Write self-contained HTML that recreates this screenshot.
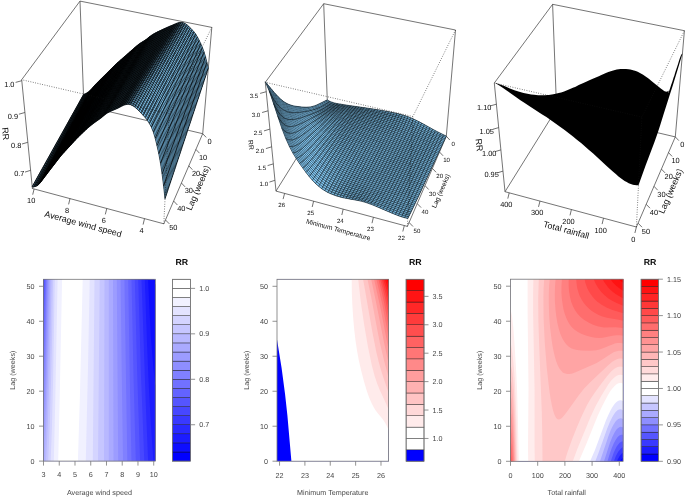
<!DOCTYPE html><html><head><meta charset="utf-8"><style>
html,body{margin:0;padding:0;background:#fff;}
svg{display:block;filter:blur(.3px);font-family:"Liberation Sans",sans-serif;text-rendering:geometricPrecision;}
.bx{stroke:#3a3a3a;stroke-width:.7;fill:none}
.dt{stroke:#111;stroke-width:.65;stroke-dasharray:.8 1.6;fill:none}
.tk{stroke:#333;stroke-width:.7}
.tl{font-size:7.4px;fill:#0a0a0a;text-anchor:middle;dominant-baseline:central}
.tt{font-size:8.8px;fill:#0a0a0a;text-anchor:middle;dominant-baseline:central}
.pb{fill:none;stroke:#777;stroke-width:.8}
.ak{stroke:#777;stroke-width:.8}
.al{font-size:7.2px;fill:#484848}
.lg{stroke:#111;stroke-width:.4}
.rr{font-size:8.8px;font-weight:bold;fill:#0a0a0a}
</style></head><body>
<svg width="685" height="497" viewBox="0 0 685 497">

<line x1="202.7" y1="133.7" x2="211.8" y2="27.4" class="bx"/>
<line x1="202.7" y1="133.7" x2="163.8" y2="223.8" class="bx"/>
<line x1="202.7" y1="133.7" x2="83.9" y2="105.7" class="bx"/>
<line x1="211.8" y1="27.4" x2="80.0" y2="1.1" class="bx"/>
<line x1="163.8" y1="223.8" x2="32.4" y2="188.5" class="bx"/>
<line x1="83.9" y1="105.7" x2="80.0" y2="1.1" class="bx"/>
<line x1="83.9" y1="105.7" x2="32.4" y2="188.5" class="bx"/>
<line x1="80.0" y1="1.1" x2="21.7" y2="79.7" class="bx"/>
<line x1="32.4" y1="188.5" x2="21.7" y2="79.7" class="bx"/>
<path fill="#0a0f12" d="M60.2 156.7L61.9 154.7L65.4 150.9L76.2 139.1L78.1 137.2L79.9 135.4L85.6 130.0L87.5 128.3L89.4 126.6L91.4 125.1L95.3 122.1L99.3 119.3L101.3 117.8L105.3 114.4L107.4 113.0L109.4 111.9L111.5 110.9L115.6 109.2L117.7 108.3L121.9 106.1L124.0 105.1L126.2 104.5L128.3 104.2L130.4 104.6L132.5 105.6L134.7 107.0L136.8 108.8L138.9 110.8L141.0 113.0L143.1 115.2L145.2 117.5L147.2 120.1L149.3 123.3L151.3 127.0L153.3 131.9L155.2 138.2L157.0 145.7L158.8 153.8L160.5 163.2L162.1 174.0L163.6 185.9L165.0 198.7L208.3 68.1L206.9 62.3L205.5 56.8L204.0 51.8L202.4 47.5L200.8 43.7L199.1 40.2L197.4 37.0L195.7 34.1L193.9 31.8L190.3 27.9L188.5 26.1L186.7 24.6L184.8 23.4L182.9 22.6L181.0 22.4L179.1 22.6L177.2 23.1L175.2 23.9L171.3 25.6L167.5 27.2L165.6 28.0L161.7 29.8L156.0 32.6L154.2 33.6L152.3 34.7L150.4 36.0L146.7 39.0L144.8 40.3L141.1 42.6L139.3 43.8L137.5 45.2L135.6 46.8L123.2 57.8L118.0 62.2L116.2 63.8L114.5 65.5L107.8 72.3L96.2 83.7L94.6 85.4L91.5 89.1L89.9 90.6L88.3 91.9L86.7 93.0L85.1 93.9L83.5 94.6L32.2 186.6L33.9 186.8L35.6 186.4L37.3 185.7L38.9 184.3L40.5 182.5L43.7 178.3L48.5 171.9L50.1 169.8L53.4 165.6Z"/>
<path fill="#141f26" stroke="#141f26" stroke-width=".35" d="M65.4 137.0L40.5 182.5L50.1 169.8L58.7 154.4L55.5 158.6L57.6 154.8L54.3 158.8L68.5 132.9ZM64.5 149.2L61.1 153.6L59.0 157.4L55.6 161.7L53.4 165.6L60.2 156.7Z"/>
<path fill="#152128" stroke="#152128" stroke-width=".35" d="M68.5 132.9L54.3 158.8L57.6 154.8L55.5 158.6L58.7 154.4L50.1 169.8L53.4 165.6L55.6 161.7L59.0 157.4L61.1 153.6L64.5 149.2L77.1 127.5L70.4 135.7L66.2 143.0L62.9 147.0L71.1 132.4L67.8 136.3L71.8 129.1ZM65.4 137.0L68.5 132.9L89.3 95.1L86.1 98.9Z"/>
<path fill="#16222a" stroke="#16222a" stroke-width=".35" d="M80.1 111.9L68.5 132.9L71.8 129.1L67.8 136.3L71.1 132.4L62.9 147.0L66.2 143.0L70.4 135.7L77.1 127.5L91.0 103.6L87.6 107.5L85.7 110.9L82.3 114.7L80.4 118.1L77.0 121.8L82.8 111.5L79.5 115.1L83.3 108.3ZM91.5 89.1L86.1 98.9L89.3 95.1L94.6 85.4Z"/>
<path fill="#18242c" stroke="#18242c" stroke-width=".35" d="M81.2 120.5L60.2 156.7L61.9 154.7L74.4 141.1L76.6 137.5L73.0 141.4L75.1 137.7L71.5 141.6L73.7 137.9L70.2 141.7L84.6 116.8ZM43.8 173.9L37.3 185.7L38.9 184.3L40.5 182.5L47.0 170.7L45.4 172.4ZM91.1 91.8L80.1 111.9L83.3 108.3L79.5 115.1L82.8 111.5L77.0 121.8L80.4 118.1L82.3 114.7L85.7 110.9L87.6 107.5L91.0 103.6L100.4 87.4L97.0 91.1L95.1 94.3L91.8 97.9L89.9 101.2L86.6 104.7L92.2 94.8L88.9 98.3L94.3 88.5Z"/>
<path fill="#19262e" stroke="#19262e" stroke-width=".35" d="M84.6 116.8L70.2 141.7L73.7 137.9L71.5 141.6L75.1 137.7L73.0 141.4L76.6 137.5L74.4 141.1L78.1 137.2L94.9 109.0L91.3 112.8L93.3 109.4L86.1 116.6L97.9 96.5L94.4 100.0L109.2 74.6L105.8 78.1L109.4 71.9L106.0 75.4L104.2 78.5L97.6 85.2L101.1 78.8L94.6 85.4L91.1 91.8L94.3 88.5L88.9 98.3L92.2 94.8L86.6 104.7L89.9 101.2L91.8 97.9L95.1 94.3L97.0 91.1L100.4 87.4L81.2 120.5ZM67.7 131.4L66.1 132.8L43.8 173.9L45.4 172.4L47.0 170.7L69.3 129.8Z"/>
<path fill="#1a2730" stroke="#1a2730" stroke-width=".35" d="M81.1 105.1L75.6 115.3L66.1 132.8L67.7 131.4L69.3 129.8L84.3 102.2L82.7 103.8ZM97.9 96.5L86.1 116.6L93.3 109.4L91.3 112.8L94.9 109.0L106.7 89.3L103.1 92.9L106.9 86.5L103.4 89.9L101.5 93.1ZM78.1 137.2L85.6 130.0L87.8 126.4L84.0 130.0L86.1 126.4L82.4 129.9ZM107.8 72.3L101.1 78.8L97.6 85.2L104.2 78.5L106.0 75.4L109.4 71.9L105.8 78.1L109.2 74.6L114.5 65.5ZM97.9 96.5L109.1 77.4L112.7 71.2L109.2 74.6L94.4 100.0Z"/>
<path fill="#1b2932" stroke="#1b2932" stroke-width=".35" d="M88.3 91.9L81.1 105.1L82.7 103.8L84.3 102.2L91.5 89.1L89.9 90.6ZM106.7 89.3L82.4 129.9L86.1 126.4L84.0 130.0L87.8 126.4L114.1 82.6L110.4 86.0L112.3 82.8L108.6 86.2L119.7 67.7L112.6 74.3L110.8 77.3L107.3 80.5L97.9 96.5L101.5 93.1L103.4 89.9L106.9 86.5L103.1 92.9ZM114.5 65.5L109.2 74.6L112.7 71.2L118.0 62.2Z"/>
<path fill="#1c2b34" stroke="#1c2b34" stroke-width=".35" d="M116.2 65.2L107.3 80.5L110.8 77.3L112.6 74.3L119.7 67.7L108.6 86.2L112.3 82.8L110.4 86.0L114.1 82.6L133.9 49.6L130.3 52.8L132.0 50.0L121.4 59.3L119.7 62.2ZM102.4 102.1L96.2 112.3L85.6 130.0L89.4 126.6L106.2 98.9L104.3 100.4Z"/>
<path fill="#1d2d36" stroke="#1d2d36" stroke-width=".35" d="M123.4 67.2L102.4 102.1L104.3 100.4L106.2 98.9L127.1 64.1L125.2 65.6ZM111.8 100.3L103.4 114.2L101.3 117.8L105.3 114.4L115.7 97.1ZM130.3 52.8L133.9 49.6L135.6 46.8L132.0 50.0ZM116.2 65.2L119.7 62.2L121.4 59.3L118.0 62.2Z"/>
<path fill="#1e2e38" stroke="#1e2e38" stroke-width=".35" d="M135.6 46.8L123.4 67.2L125.2 65.6L127.1 64.1L139.3 43.8L137.5 45.2ZM119.8 87.0L111.8 100.3L115.7 97.1L123.7 84.0ZM102.1 105.6L90.5 124.8L89.4 126.6L93.3 123.5L106.0 102.7ZM146.7 39.0L139.0 51.7L131.0 64.9L134.8 61.9L150.4 36.0Z"/>
<path fill="#20303a" stroke="#20303a" stroke-width=".35" d="M112.1 89.0L102.1 105.6L106.0 102.7L115.9 86.2ZM109.9 99.9L106.0 102.7L93.3 123.5L101.3 117.8L119.8 87.0L123.7 84.0L131.3 71.3L127.4 74.2L134.8 61.9L131.0 64.9Z"/>
<path fill="#21323c" stroke="#21323c" stroke-width=".35" d="M121.6 73.2L112.1 89.0L115.9 86.2L106.0 102.7L109.9 99.9L129.2 68.0ZM134.8 61.9L127.4 74.2L131.3 71.3L138.7 59.2L136.7 60.5Z"/>
<path fill="#22343e" stroke="#22343e" stroke-width=".35" d="M130.6 58.2L121.6 73.2L129.2 68.0L146.7 39.0L144.8 40.3L143.0 41.5L134.4 55.7ZM85.1 93.9L78.8 105.3L77.9 107.0L79.5 106.1L81.1 105.1L88.3 91.9L86.7 93.0ZM145.7 47.5L143.8 48.7L141.9 50.1L134.8 61.9L136.7 60.5L138.7 59.2Z"/>
<path fill="#233541" stroke="#233541" stroke-width=".35" d="M137.6 46.6L130.6 58.2L134.4 55.7L141.3 44.3ZM77.9 107.0L75.2 112.0L72.4 117.0L74.0 116.3L75.6 115.3L81.1 105.1L79.5 106.1ZM107.4 113.0L109.4 111.9L111.5 108.4L109.5 109.5L107.4 110.9L105.3 114.4ZM147.0 41.5L141.9 50.1L143.8 48.7L145.7 47.5L150.8 39.1L148.9 40.2Z"/>
<path fill="#243743" stroke="#243743" stroke-width=".35" d="M119.8 90.5L107.4 110.9L109.5 109.5L111.5 108.4L123.8 88.2L121.8 89.2ZM72.4 117.0L67.6 125.6L66.7 127.3L68.3 126.7L69.9 125.7L75.6 115.3L74.0 116.3ZM150.4 36.0L147.0 41.5L148.9 40.2L150.8 39.1L154.2 33.6L152.3 34.7ZM137.6 46.6L141.3 44.3L143.0 41.5L139.3 43.8Z"/>
<path fill="#253945" stroke="#253945" stroke-width=".35" d="M131.3 71.3L127.6 77.6L119.8 90.5L121.8 89.2L123.8 88.2L135.3 69.1L133.3 70.2ZM66.7 127.3L61.8 136.1L58.9 141.5L60.5 140.9L62.2 140.0L69.9 125.7L68.3 126.7Z"/>
<path fill="#263a47" stroke="#263a47" stroke-width=".35" d="M125.9 94.5L120.8 103.0L117.7 108.3L121.9 106.1L130.1 92.4ZM58.9 141.5L52.9 152.4L54.5 151.9L56.2 151.0L62.2 140.0L60.5 140.9ZM142.2 53.3L137.8 60.7L131.3 71.3L133.3 70.2L135.3 69.1L146.1 51.2Z"/>
<path fill="#273c49" stroke="#273c49" stroke-width=".35" d="M135.7 78.0L125.9 94.5L130.1 92.4L139.8 76.0ZM79.9 101.0L81.5 100.4L85.1 93.9L83.5 94.6ZM52.9 152.4L46.7 163.6L48.4 163.1L50.0 162.3L56.2 151.0L54.5 151.9ZM150.8 39.1L146.6 46.1L142.2 53.3L146.1 51.2L154.6 37.1Z"/>
<path fill="#283e4b" stroke="#283e4b" stroke-width=".35" d="M140.8 60.0L123.8 88.2L109.4 111.9L113.5 110.1L144.7 58.2ZM81.5 100.4L79.9 101.0L78.1 104.3L79.7 103.6ZM42.5 171.2L44.2 170.7L45.9 170.0L50.0 162.3L48.4 163.1L46.7 163.6ZM154.2 33.6L150.8 39.1L154.6 37.1L157.9 31.6ZM145.0 62.4L141.4 68.5L135.7 78.0L139.8 76.0L149.1 60.5Z"/>
<path fill="#2a404d" stroke="#2a404d" stroke-width=".35" d="M144.7 58.2L113.5 110.1L117.7 108.3L145.0 62.4L149.1 60.5L156.1 48.7L152.2 50.5L165.6 28.0L157.9 31.6L140.8 60.0ZM78.1 104.3L75.4 109.2L74.5 110.9L76.1 110.3L79.7 103.6ZM42.5 171.2L36.1 182.8L37.8 182.5L39.5 181.8L45.9 170.0L44.2 170.7Z"/>
<path fill="#2b414f" stroke="#2b414f" stroke-width=".35" d="M159.0 39.0L153.9 47.6L152.2 50.5L156.1 48.7L162.9 37.3ZM74.2 113.6L75.2 112.0L76.1 110.3L74.5 110.9L72.6 114.2ZM33.9 186.8L35.6 186.4L37.3 185.7L39.5 181.8L37.8 182.5L36.1 182.8Z"/>
<path fill="#2c4351" stroke="#2c4351" stroke-width=".35" d="M162.9 37.3L139.8 76.0L121.9 106.1L124.0 105.1L126.2 104.5L173.3 24.8L171.3 25.6L165.6 28.0L159.0 39.0ZM74.2 113.6L72.6 114.2L70.7 117.5L72.4 117.0Z"/>
<path fill="#2d4553" stroke="#2d4553" stroke-width=".35" d="M173.3 24.8L170.1 30.2L172.0 29.3L174.0 28.7L177.2 23.1L175.2 23.9ZM70.7 117.5L67.0 124.3L68.6 123.9L72.4 117.0Z"/>
<path fill="#2e4655" stroke="#2e4655" stroke-width=".35" d="M170.1 30.2L168.4 32.9L170.4 32.1L172.4 31.5L174.0 28.7L172.0 29.3ZM67.0 124.3L65.0 127.8L66.7 127.3L68.6 123.9Z"/>
<path fill="#2f4858" stroke="#2f4858" stroke-width=".35" d="M168.4 32.9L167.6 34.3L165.2 38.5L167.1 37.7L169.1 37.2L172.4 31.5L170.4 32.1ZM63.1 131.2L64.8 130.8L66.7 127.3L65.0 127.8Z"/>
<path fill="#304a5a" stroke="#304a5a" stroke-width=".35" d="M165.2 38.5L163.5 41.3L165.5 40.6L167.4 40.1L169.1 37.2L167.1 37.7ZM63.1 131.2L59.2 138.2L60.9 137.9L64.8 130.8Z"/>
<path fill="#324c5c" stroke="#324c5c" stroke-width=".35" d="M163.5 41.3L161.8 44.2L163.8 43.5L165.8 43.0L167.4 40.1L165.5 40.6ZM59.2 138.2L57.2 141.8L58.9 141.5L60.9 137.9Z"/>
<path fill="#334d5e" stroke="#334d5e" stroke-width=".35" d="M161.8 44.2L160.1 47.1L158.4 50.0L160.4 49.3L162.4 48.9L165.8 43.0L163.8 43.5ZM55.2 145.3L56.9 145.1L58.9 141.5L57.2 141.8Z"/>
<path fill="#344f60" stroke="#344f60" stroke-width=".35" d="M158.4 50.0L156.6 52.9L158.6 52.3L160.6 51.9L162.4 48.9L160.4 49.3ZM55.2 145.3L53.2 148.9L54.9 148.7L56.9 145.1Z"/>
<path fill="#355162" stroke="#355162" stroke-width=".35" d="M156.6 52.9L154.9 55.9L156.9 55.3L158.9 55.0L160.6 51.9L158.6 52.3ZM53.2 148.9L51.2 152.6L52.9 152.4L54.9 148.7Z"/>
<path fill="#365264" stroke="#365264" stroke-width=".35" d="M154.9 55.9L153.1 58.9L155.1 58.3L157.1 58.0L158.9 55.0L156.9 55.3ZM51.2 152.6L49.2 156.2L50.8 156.1L52.9 152.4Z"/>
<path fill="#375466" stroke="#375466" stroke-width=".35" d="M153.1 58.9L152.2 60.4L149.5 65.0L151.5 64.5L153.6 64.3L157.1 58.0L155.1 58.3ZM47.1 159.9L48.8 159.8L50.8 156.1L49.2 156.2Z"/>
<path fill="#385668" stroke="#385668" stroke-width=".35" d="M177.2 23.1L175.6 25.9L177.5 25.4L179.5 25.3L181.0 22.4L179.1 22.6ZM149.5 65.0L147.7 68.1L149.7 67.6L151.7 67.5L153.6 64.3L151.5 64.5ZM45.0 163.6L46.7 163.6L48.8 159.8L47.1 159.9Z"/>
<path fill="#39586a" stroke="#39586a" stroke-width=".35" d="M147.7 68.1L145.8 71.2L147.9 70.7L149.9 70.7L151.7 67.5L149.7 67.6ZM45.0 163.6L42.9 167.4L44.6 167.4L46.7 163.6Z"/>
<path fill="#3a596c" stroke="#3a596c" stroke-width=".35" d="M175.6 25.9L174.0 28.7L175.9 28.2L177.9 28.1L179.5 25.3L177.5 25.4ZM145.8 71.2L143.9 74.4L146.0 73.9L148.0 73.9L149.9 70.7L147.9 70.7ZM40.8 171.2L42.5 171.2L44.6 167.4L42.9 167.4Z"/>
<path fill="#3c5b6e" stroke="#3c5b6e" stroke-width=".35" d="M174.0 28.7L172.4 31.5L174.3 31.1L176.3 31.1L177.9 28.1L175.9 28.2ZM143.9 74.4L142.0 77.6L144.1 77.1L146.2 77.2L148.0 73.9L146.0 73.9ZM38.7 175.0L40.4 175.0L42.5 171.2L40.8 171.2Z"/>
<path fill="#3d5d70" stroke="#3d5d70" stroke-width=".35" d="M142.0 77.6L140.1 80.8L142.2 80.4L144.3 80.5L146.2 77.2L144.1 77.1ZM38.7 175.0L36.5 178.9L38.3 178.9L40.4 175.0Z"/>
<path fill="#3e5e73" stroke="#3e5e73" stroke-width=".35" d="M172.4 31.5L170.7 34.3L172.7 34.0L174.7 34.0L176.3 31.1L174.3 31.1ZM140.1 80.8L138.2 84.1L140.3 83.7L142.4 83.8L144.3 80.5L142.2 80.4ZM34.4 182.7L36.1 182.8L38.3 178.9L36.5 178.9Z"/>
<path fill="#3f6075" stroke="#3f6075" stroke-width=".35" d="M170.7 34.3L169.1 37.2L171.1 36.9L173.0 37.0L174.7 34.0L172.7 34.0ZM138.2 84.1L136.2 87.4L138.3 87.0L140.4 87.2L142.4 83.8L140.3 83.7ZM32.2 186.6L33.9 186.8L36.1 182.8L34.4 182.7Z"/>
<path fill="#406277" stroke="#406277" stroke-width=".35" d="M138.3 87.0L136.2 87.4L134.3 90.7L136.4 90.4L138.5 90.6L140.4 87.2Z"/>
<path fill="#416479" stroke="#416479" stroke-width=".35" d="M169.1 37.2L167.4 40.1L169.4 39.9L171.4 40.0L173.0 37.0L171.1 36.9ZM134.3 90.7L132.3 94.1L134.4 93.8L136.5 94.0L138.5 90.6L136.4 90.4Z"/>
<path fill="#42657b" stroke="#42657b" stroke-width=".35" d="M132.3 94.1L130.3 97.5L128.2 101.0L130.3 100.7L132.5 101.1L136.5 94.0L134.4 93.8Z"/>
<path fill="#44677d" stroke="#44677d" stroke-width=".35" d="M167.4 40.1L165.8 43.0L167.7 42.8L169.7 43.0L171.4 40.0L169.4 39.9ZM128.2 101.0L126.2 104.5L128.3 104.2L130.4 104.6L132.5 101.1L130.3 100.7Z"/>
<path fill="#45697f" stroke="#45697f" stroke-width=".35" d="M167.7 42.8L165.8 43.0L164.1 45.9L166.1 45.8L168.0 46.1L169.7 43.0Z"/>
<path fill="#476c83" stroke="#476c83" stroke-width=".35" d="M166.1 45.8L164.1 45.9L162.4 48.9L164.4 48.9L166.3 49.2L168.0 46.1Z"/>
<path fill="#486e85" stroke="#486e85" stroke-width=".35" d="M164.4 48.9L162.4 48.9L160.6 51.9L162.6 51.9L164.6 52.3L166.3 49.2Z"/>
<path fill="#4a718a" stroke="#4a718a" stroke-width=".35" d="M162.6 51.9L160.6 51.9L158.9 55.0L160.9 55.0L162.9 55.5L164.6 52.3Z"/>
<path fill="#4c758e" stroke="#4c758e" stroke-width=".35" d="M160.9 55.0L158.9 55.0L157.1 58.0L159.1 58.2L161.1 58.7L162.9 55.5Z"/>
<path fill="#4e7690" stroke="#4e7690" stroke-width=".35" d="M159.1 58.2L157.1 58.0L155.4 61.1L157.4 61.3L159.4 61.9L161.1 58.7Z"/>
<path fill="#507a94" stroke="#507a94" stroke-width=".35" d="M157.4 61.3L155.4 61.1L153.6 64.3L155.6 64.5L157.6 65.2L159.4 61.9Z"/>
<path fill="#527d98" stroke="#527d98" stroke-width=".35" d="M155.6 64.5L153.6 64.3L151.7 67.5L153.8 67.8L155.8 68.5L157.6 65.2Z"/>
<path fill="#537f9a" stroke="#537f9a" stroke-width=".35" d="M153.8 67.8L151.7 67.5L149.9 70.7L151.9 71.0L154.0 71.8L155.8 68.5Z"/>
<path fill="#56829e" stroke="#56829e" stroke-width=".35" d="M181.0 22.4L179.5 25.3L181.4 25.6L183.3 26.4L184.8 23.4L182.9 22.6ZM149.9 70.7L148.0 73.9L150.1 74.3L152.1 75.1L154.0 71.8L151.9 71.0Z"/>
<path fill="#5784a0" stroke="#5784a0" stroke-width=".35" d="M179.5 25.3L177.9 28.1L179.8 28.5L181.7 29.4L183.3 26.4L181.4 25.6ZM148.0 73.9L146.2 77.2L148.2 77.6L150.3 78.5L152.1 75.1L150.1 74.3Z"/>
<path fill="#5886a2" stroke="#5886a2" stroke-width=".35" d="M179.8 28.5L177.9 28.1L176.3 31.1L178.2 31.5L180.1 32.4L181.7 29.4Z"/>
<path fill="#5988a5" stroke="#5988a5" stroke-width=".35" d="M176.3 31.1L174.7 34.0L176.6 34.5L178.5 35.4L180.1 32.4L178.2 31.5ZM146.2 77.2L144.3 80.5L146.3 81.0L148.4 82.0L150.3 78.5L148.2 77.6Z"/>
<path fill="#5a89a7" stroke="#5a89a7" stroke-width=".35" d="M146.3 81.0L144.3 80.5L142.4 83.8L144.4 84.4L146.5 85.4L148.4 82.0Z"/>
<path fill="#5b8ba9" stroke="#5b8ba9" stroke-width=".35" d="M176.6 34.5L174.7 34.0L173.0 37.0L175.0 37.5L176.9 38.5L178.5 35.4Z"/>
<path fill="#5c8dab" stroke="#5c8dab" stroke-width=".35" d="M173.0 37.0L171.4 40.0L173.3 40.6L175.2 41.6L176.9 38.5L175.0 37.5ZM142.4 83.8L140.4 87.2L142.5 87.8L144.6 88.9L146.5 85.4L144.4 84.4Z"/>
<path fill="#5d8ead" stroke="#5d8ead" stroke-width=".35" d="M171.4 40.0L169.7 43.0L171.7 43.7L173.6 44.8L175.2 41.6L173.3 40.6ZM140.4 87.2L138.5 90.6L140.5 91.3L142.6 92.5L144.6 88.9L142.5 87.8Z"/>
<path fill="#5e90af" stroke="#5e90af" stroke-width=".35" d="M171.7 43.7L169.7 43.0L168.0 46.1L170.0 46.8L171.9 47.9L173.6 44.8Z"/>
<path fill="#6092b1" stroke="#6092b1" stroke-width=".35" d="M140.5 91.3L138.5 90.6L136.5 94.0L138.6 94.8L140.7 96.0L142.6 92.5Z"/>
<path fill="#6194b3" stroke="#6194b3" stroke-width=".35" d="M168.0 46.1L166.3 49.2L168.3 50.0L170.2 51.1L171.9 47.9L170.0 46.8ZM136.5 94.0L134.5 97.5L136.6 98.4L138.7 99.7L140.7 96.0L138.6 94.8Z"/>
<path fill="#6295b5" stroke="#6295b5" stroke-width=".35" d="M166.3 49.2L164.6 52.3L166.6 53.2L168.5 54.4L170.2 51.1L168.3 50.0ZM134.5 97.5L132.5 101.1L134.6 102.0L136.7 103.3L138.7 99.7L136.6 98.4Z"/>
<path fill="#6397b7" stroke="#6397b7" stroke-width=".35" d="M164.6 52.3L162.9 55.5L164.9 56.4L166.8 57.6L168.5 54.4L166.6 53.2ZM132.5 101.1L130.4 104.6L132.5 105.6L134.7 107.0L136.7 103.3L134.6 102.0Z"/>
<path fill="#6499b9" stroke="#6499b9" stroke-width=".35" d="M164.9 56.4L162.9 55.5L161.1 58.7L163.1 59.6L165.1 60.9L166.8 57.6Z"/>
<path fill="#659abc" stroke="#659abc" stroke-width=".35" d="M163.1 59.6L161.1 58.7L159.4 61.9L161.4 62.9L163.3 64.3L165.1 60.9Z"/>
<path fill="#669cbe" stroke="#669cbe" stroke-width=".35" d="M161.4 62.9L159.4 61.9L157.6 65.2L159.6 66.2L161.6 67.6L163.3 64.3Z"/>
<path fill="#689ec0" stroke="#689ec0" stroke-width=".35" d="M159.6 66.2L157.6 65.2L155.8 68.5L157.8 69.6L159.8 71.0L161.6 67.6Z"/>
<path fill="#69a0c2" stroke="#69a0c2" stroke-width=".35" d="M157.8 69.6L155.8 68.5L154.0 71.8L156.0 73.0L158.0 74.5L159.8 71.0Z"/>
<path fill="#6aa1c4" stroke="#6aa1c4" stroke-width=".35" d="M154.0 71.8L150.3 78.5L152.3 79.8L154.3 81.4L158.0 74.5L156.0 73.0Z"/>
<path fill="#6ba3c6" stroke="#6ba3c6" stroke-width=".35" d="M184.8 23.4L183.3 26.4L185.1 27.6L187.0 29.2L188.5 26.1L186.7 24.6ZM150.3 78.5L148.4 82.0L150.4 83.3L152.5 85.0L154.3 81.4L152.3 79.8Z"/>
<path fill="#6ca5c8" stroke="#6ca5c8" stroke-width=".35" d="M183.3 26.4L180.1 32.4L182.0 33.7L183.8 35.3L187.0 29.2L185.1 27.6ZM148.4 82.0L146.5 85.4L148.5 86.8L150.6 88.6L152.5 85.0L150.4 83.3Z"/>
<path fill="#6da7ca" stroke="#6da7ca" stroke-width=".35" d="M180.1 32.4L175.2 41.6L177.1 43.0L179.0 44.7L183.8 35.3L182.0 33.7ZM146.5 85.4L144.6 88.9L146.6 90.4L148.7 92.2L150.6 88.6L148.5 86.8Z"/>
<path fill="#6ea8cc" stroke="#6ea8cc" stroke-width=".35" d="M175.2 41.6L170.2 51.1L172.2 52.7L174.1 54.4L179.0 44.7L177.1 43.0ZM144.6 88.9L140.7 96.0L142.7 97.6L144.8 99.5L148.7 92.2L146.6 90.4Z"/>
<path fill="#6faace" stroke="#6faace" stroke-width=".35" d="M170.2 51.1L165.1 60.9L167.0 62.6L169.0 64.4L174.1 54.4L172.2 52.7ZM140.7 96.0L138.7 99.7L140.8 101.3L142.9 103.2L144.8 99.5L142.7 97.6Z"/>
<path fill="#70acd0" stroke="#70acd0" stroke-width=".35" d="M165.1 60.9L159.8 71.0L161.8 72.8L163.7 74.7L169.0 64.4L167.0 62.6ZM138.7 99.7L134.7 107.0L136.8 108.8L138.9 110.8L142.9 103.2L140.8 101.3Z"/>
<path fill="#72add2" stroke="#72add2" stroke-width=".35" d="M159.8 71.0L154.3 81.4L156.3 83.3L158.3 85.3L163.7 74.7L161.8 72.8Z"/>
<path fill="#73afd4" stroke="#73afd4" stroke-width=".35" d="M188.5 26.1L182.2 38.4L184.1 40.3L185.9 42.3L192.1 29.8ZM154.3 81.4L148.7 92.2L152.7 96.2L158.3 85.3L156.3 83.3Z"/>
<path fill="#74b1d7" stroke="#74b1d7" stroke-width=".35" d="M182.2 38.4L174.1 54.4L176.0 56.4L177.9 58.5L185.9 42.3L184.1 40.3ZM148.7 92.2L140.9 107.0L145.0 111.3L152.7 96.2Z"/>
<path fill="#75b3d9" stroke="#75b3d9" stroke-width=".35" d="M174.1 54.4L161.9 78.2L163.9 80.3L165.9 82.7L177.9 58.5L176.0 56.4ZM138.9 110.8L143.1 115.2L145.0 111.3L140.9 107.0Z"/>
<path fill="#76b4db" stroke="#76b4db" stroke-width=".35" d="M192.1 29.8L189.1 36.0L190.9 38.0L192.6 40.5L195.7 34.1L193.9 31.8ZM161.9 78.2L150.9 99.9L152.9 102.1L154.9 104.7L165.9 82.7L163.9 80.3Z"/>
<path fill="#77b6dd" stroke="#77b6dd" stroke-width=".35" d="M189.1 36.0L184.3 45.5L186.2 47.6L188.0 50.3L192.6 40.5L190.9 38.0ZM150.9 99.9L143.1 115.2L145.2 117.5L147.2 120.1L154.9 104.7L152.9 102.1Z"/>
<path fill="#78b8df" stroke="#78b8df" stroke-width=".35" d="M184.3 45.5L177.9 58.5L179.7 60.9L181.6 63.7L188.0 50.3L186.2 47.6Z"/>
<path fill="#7ab9e1" stroke="#7ab9e1" stroke-width=".35" d="M177.9 58.5L171.1 72.1L173.0 74.7L174.9 77.7L181.6 63.7L179.7 60.9Z"/>
<path fill="#7bbbe3" stroke="#7bbbe3" stroke-width=".35" d="M171.1 72.1L162.3 89.9L164.2 92.6L166.2 95.9L174.9 77.7L173.0 74.7Z"/>
<path fill="#7cbde5" stroke="#7cbde5" stroke-width=".35" d="M195.7 34.1L192.6 40.5L194.4 43.5L196.1 47.0L199.1 40.2L197.4 37.0ZM162.3 89.9L149.2 116.2L151.2 119.3L153.2 123.0L166.2 95.9L164.2 92.6Z"/>
<path fill="#7dbfe7" stroke="#7dbfe7" stroke-width=".35" d="M192.6 40.5L188.0 50.3L189.7 53.5L191.4 57.3L196.1 47.0L194.4 43.5ZM149.2 116.2L147.2 120.1L149.3 123.3L151.3 127.0L153.2 123.0L151.2 119.3Z"/>
<path fill="#7ec0e9" stroke="#7ec0e9" stroke-width=".35" d="M199.1 40.2L194.5 50.4L196.2 54.4L197.8 58.6L202.4 47.5L200.8 43.7ZM188.0 50.3L179.9 67.2L181.7 70.8L183.4 75.2L191.4 57.3L189.7 53.5Z"/>
<path fill="#7fc2eb" stroke="#7fc2eb" stroke-width=".35" d="M179.9 67.2L169.7 88.5L171.6 92.6L173.3 97.7L183.4 75.2L181.7 70.8ZM202.4 47.5L199.4 54.9L200.9 59.6L202.4 65.1L205.5 56.8L204.0 51.8ZM194.5 50.4L188.3 64.4L189.9 69.0L191.6 73.9L197.8 58.6L196.2 54.4Z"/>
<path fill="#80c4ee" stroke="#80c4ee" stroke-width=".35" d="M188.3 64.4L178.4 86.3L180.1 91.8L181.8 97.8L190.0 77.8L191.5 83.7L193.0 90.5L199.3 73.4L200.8 79.9L202.1 86.9L208.3 68.1L206.9 62.3L205.5 56.8L202.4 65.1L200.9 59.6L199.4 54.9L191.6 73.9L189.9 69.0ZM169.7 88.5L151.3 127.0L153.3 131.9L155.2 138.2L173.3 97.7L171.6 92.6Z"/>
<path fill="#81c5f0" stroke="#81c5f0" stroke-width=".35" d="M178.4 86.3L155.2 138.2L157.0 145.7L158.8 153.8L173.3 118.6L174.9 126.4L176.4 135.5L184.8 112.6L186.2 121.3L187.6 130.7L202.1 86.9L200.8 79.9L199.3 73.4L193.0 90.5L191.5 83.7L190.0 77.8L181.8 97.8L180.1 91.8Z"/>
<path fill="#82c7f2" stroke="#82c7f2" stroke-width=".35" d="M173.3 118.6L158.8 153.8L160.5 163.2L162.1 174.0L163.6 185.9L165.0 198.7L187.6 130.7L186.2 121.3L184.8 112.6L176.4 135.5L174.9 126.4Z"/>
<path fill="none" stroke="#000" stroke-width="0.75" d="M208.3 68.1L165.0 198.7M206.9 62.3L163.6 185.9M205.5 56.8L162.1 174.0M204.0 51.8L160.5 163.2M202.4 47.5L158.8 153.8M200.8 43.7L157.0 145.7M199.1 40.2L155.2 138.2M197.4 37.0L153.3 131.9M195.7 34.1L151.3 127.0M193.9 31.8L149.3 123.3M192.1 29.8L147.2 120.1M190.3 27.9L145.2 117.5M188.5 26.1L143.1 115.2M186.7 24.6L141.0 113.0M184.8 23.4L138.9 110.8M182.9 22.6L136.8 108.8M181.0 22.4L134.7 107.0M179.1 22.6L132.5 105.6M177.2 23.1L130.4 104.6M175.2 23.9L128.3 104.2M173.3 24.8L126.2 104.5M171.3 25.6L124.0 105.1M169.4 26.4L121.9 106.1M167.5 27.2L119.8 107.2M165.6 28.0L117.7 108.3M163.6 28.9L115.6 109.2M161.7 29.8L113.5 110.1M159.8 30.7L111.5 110.9M157.9 31.6L109.4 111.9M156.0 32.6L107.4 113.0M154.2 33.6L105.3 114.4M152.3 34.7L103.3 116.0M150.4 36.0L101.3 117.8M148.5 37.5L99.3 119.3M146.7 39.0L97.3 120.7M144.8 40.3L95.3 122.1M143.0 41.5L93.3 123.5M141.1 42.6L91.4 125.1M139.3 43.8L89.4 126.6M137.5 45.2L87.5 128.3M135.6 46.8L85.6 130.0M133.8 48.4L83.7 131.8M132.0 50.0L81.8 133.6M130.2 51.5L79.9 135.4M128.5 53.1L78.1 137.2M126.7 54.7L76.2 139.1M124.9 56.2L74.4 141.1M123.2 57.8L72.6 143.1M121.4 59.3L70.8 145.1M119.7 60.8L69.0 147.1M118.0 62.2L67.2 149.0M116.2 63.8L65.4 150.9M114.5 65.5L63.7 152.8M112.8 67.2L61.9 154.7M111.1 68.9L60.2 156.7M109.4 70.6L58.5 158.9M107.8 72.3L56.8 161.2M106.1 74.0L55.1 163.4M104.4 75.6L53.4 165.6M102.8 77.2L51.8 167.7M101.1 78.8L50.1 169.8M99.5 80.5L48.5 171.9M97.9 82.1L46.9 174.1M96.2 83.7L45.3 176.2M94.6 85.4L43.7 178.3M93.0 87.2L42.1 180.4M91.5 89.1L40.5 182.5M89.9 90.6L38.9 184.3M88.3 91.9L37.3 185.7M86.7 93.0L35.6 186.4M85.1 93.9L33.9 186.8M83.5 94.6L32.2 186.6"/>
<path fill="none" stroke="#000" stroke-width="0.6" d="M208.3 68.1L205.5 56.8L204.0 51.8L202.4 47.5L199.1 40.2L197.4 37.0L195.7 34.1L193.9 31.8L192.1 29.8L188.5 26.1L186.7 24.6L184.8 23.4L182.9 22.6L181.0 22.4L179.1 22.6L177.2 23.1L175.2 23.9L171.3 25.6L165.6 28.0L154.2 33.6L150.4 36.0L146.7 39.0L144.8 40.3L139.3 43.8L135.6 46.8L116.2 63.8L96.2 83.7L94.6 85.4L91.5 89.1L89.9 90.6L88.3 91.9L86.7 93.0L83.5 94.6M207.6 70.4L204.7 58.9L203.2 53.8L201.6 49.3L198.4 41.9L196.7 38.6L194.9 35.7L193.2 33.3L191.4 31.3L187.7 27.6L185.9 26.1L184.0 24.9L182.2 24.1L180.3 23.8L178.3 24.0L176.4 24.5L174.4 25.2L164.7 29.4L157.1 33.0L153.3 34.9L149.6 37.3L145.8 40.4L144.0 41.7L138.4 45.2L134.8 48.2L115.4 65.3L95.4 85.3L93.8 87.0L90.6 90.7L89.0 92.2L87.4 93.5L85.8 94.6L84.2 95.5L82.6 96.2M206.8 72.8L204.0 60.9L202.5 55.7L200.9 51.2L197.6 43.6L195.9 40.2L194.2 37.3L192.4 34.9L190.6 32.9L187.0 29.2L185.1 27.6L183.3 26.4L181.4 25.6L179.5 25.3L177.5 25.4L175.6 25.9L173.6 26.6L165.9 29.9L162.0 31.6L154.4 35.3L150.6 37.4L148.7 38.7L143.1 43.1L137.6 46.6L133.9 49.6L114.5 66.8L94.5 86.9L92.9 88.6L89.7 92.3L88.1 93.9L86.5 95.2L84.9 96.2L83.3 97.1L81.7 97.8M206.0 75.1L203.2 63.0L201.7 57.7L200.1 53.0L196.8 45.3L195.1 41.8L193.4 38.9L191.6 36.4L189.8 34.4L186.2 30.7L184.3 29.1L182.5 27.9L180.6 27.0L178.7 26.7L176.7 26.8L174.8 27.3L172.8 28.0L165.0 31.2L161.2 33.0L153.6 36.7L149.8 38.8L147.9 40.1L142.3 44.5L136.7 48.1L133.1 51.0L113.6 68.3L93.6 88.5L92.0 90.2L88.8 94.0L87.2 95.5L85.6 96.8L84.0 97.9L82.4 98.7L80.8 99.4M205.2 77.4L202.4 65.1L200.9 59.6L199.4 54.9L196.1 47.0L194.4 43.5L192.6 40.5L190.9 38.0L189.1 36.0L185.4 32.2L183.6 30.6L181.7 29.4L179.8 28.5L177.9 28.1L175.9 28.2L174.0 28.7L172.0 29.3L164.2 32.6L152.7 38.1L148.9 40.2L147.0 41.5L141.4 45.9L135.9 49.5L132.2 52.5L112.7 69.8L92.7 90.1L91.1 91.8L87.9 95.6L86.3 97.2L84.7 98.5L83.1 99.5L81.5 100.4L79.9 101.0M204.5 79.8L201.7 67.1L200.2 61.6L198.6 56.8L195.3 48.7L193.6 45.1L191.9 42.1L190.1 39.6L188.3 37.5L184.6 33.8L182.8 32.2L180.9 30.9L179.0 30.0L177.1 29.6L175.1 29.7L173.2 30.1L171.2 30.7L163.4 34.0L151.9 39.4L148.1 41.6L146.2 42.9L140.6 47.3L135.0 50.9L131.4 53.9L111.8 71.4L91.8 91.8L90.2 93.5L87.0 97.3L85.4 98.8L83.8 100.1L82.2 101.2L80.6 102.0L79.0 102.7M203.7 82.1L200.9 69.2L199.4 63.5L197.8 58.6L194.5 50.4L192.8 46.8L191.1 43.7L189.3 41.2L187.5 39.1L183.8 35.3L182.0 33.7L180.1 32.4L178.2 31.5L176.3 31.1L174.3 31.1L172.4 31.5L170.4 32.1L162.6 35.4L151.0 40.8L147.2 43.0L145.3 44.4L139.7 48.7L134.2 52.4L130.5 55.3L110.9 72.9L90.9 93.4L89.3 95.1L86.1 98.9L84.5 100.5L82.9 101.8L81.3 102.8L79.7 103.6L78.1 104.3M202.9 84.5L200.1 71.3L198.6 65.5L197.1 60.5L193.8 52.1L192.1 48.5L190.3 45.4L188.5 42.8L186.7 40.7L183.0 36.9L181.2 35.2L179.3 33.9L177.4 33.0L175.5 32.5L173.5 32.5L171.6 32.9L169.6 33.5L167.6 34.3L159.8 37.6L150.2 42.2L146.4 44.5L138.8 50.2L133.3 53.8L129.6 56.8L110.1 74.4L90.0 95.0L88.4 96.8L85.2 100.6L83.6 102.1L82.0 103.4L80.4 104.5L78.8 105.3L77.2 105.9M202.1 86.9L199.3 73.4L197.8 67.5L196.3 62.4L193.0 53.8L191.3 50.1L189.6 47.0L187.8 44.4L185.9 42.3L182.2 38.4L180.4 36.8L178.5 35.4L176.6 34.5L174.7 34.0L172.7 34.0L170.7 34.3L168.8 34.9L166.8 35.7L159.0 39.0L149.3 43.6L145.5 45.9L138.0 51.6L132.4 55.3L128.7 58.3L109.2 75.9L89.1 96.7L87.5 98.4L84.3 102.2L82.7 103.8L81.1 105.1L79.5 106.1L77.9 107.0L76.3 107.6M201.3 89.2L198.6 75.5L197.1 69.5L195.5 64.3L192.2 55.6L190.5 51.8L188.8 48.6L187.0 46.0L183.3 41.8L181.4 40.0L179.6 38.3L177.7 37.0L175.8 36.0L173.8 35.5L171.9 35.4L169.9 35.7L168.0 36.3L160.1 39.5L150.4 44.1L146.6 46.1L142.8 48.7L137.1 53.0L131.5 56.7L129.7 58.1L120.6 66.2L108.3 77.5L88.2 98.3L86.6 100.1L83.4 103.9L81.8 105.5L80.2 106.8L78.6 107.8L77.0 108.6L75.4 109.2M200.5 91.6L197.8 77.6L196.3 71.5L194.7 66.2L191.4 57.3L189.7 53.5L188.0 50.3L186.2 47.6L182.5 43.4L178.8 39.9L176.9 38.5L175.0 37.5L173.0 37.0L171.1 36.9L169.1 37.2L167.1 37.7L165.2 38.5L159.3 41.0L149.6 45.5L145.7 47.5L141.9 50.1L136.2 54.5L130.6 58.2L128.8 59.6L119.7 67.7L107.4 79.0L102.2 84.3L87.3 100.0L85.7 101.7L82.5 105.6L80.9 107.2L79.3 108.5L77.7 109.5L76.1 110.3L74.5 110.9M199.7 94.0L197.0 79.8L195.5 73.5L193.9 68.1L190.7 59.1L188.9 55.2L187.2 51.9L185.4 49.3L181.7 45.0L178.0 41.5L176.1 40.1L174.1 39.1L172.2 38.5L170.2 38.4L168.3 38.6L166.3 39.2L164.3 39.9L158.4 42.4L146.8 47.9L142.9 50.2L137.2 54.6L129.8 59.7L127.9 61.1L118.8 69.2L106.4 80.6L101.3 85.9L86.3 101.6L81.5 107.3L80.0 108.8L78.4 110.2L76.8 111.2L75.2 112.0L73.5 112.5M199.0 96.4L196.2 81.9L194.7 75.5L193.2 70.0L189.9 60.8L188.2 56.9L186.4 53.6L184.6 50.9L180.9 46.6L177.1 43.0L175.2 41.6L173.3 40.6L171.4 40.0L169.4 39.9L167.4 40.1L165.5 40.6L163.5 41.3L157.6 43.8L145.9 49.3L142.1 51.6L136.4 56.0L128.9 61.1L127.0 62.6L117.9 70.7L105.5 82.2L100.4 87.4L85.4 103.3L80.6 109.0L79.0 110.5L77.4 111.9L75.8 112.9L74.2 113.6L72.6 114.2M198.2 98.8L195.4 84.0L193.9 77.6L192.4 72.0L189.1 62.6L187.4 58.6L185.6 55.3L183.8 52.6L180.1 48.2L176.3 44.6L174.4 43.2L172.5 42.1L170.5 41.5L168.6 41.3L166.6 41.5L164.6 42.0L158.7 44.4L150.8 47.9L145.0 50.8L141.2 53.1L135.5 57.5L128.0 62.6L126.1 64.1L117.0 72.2L104.6 83.7L99.5 89.0L84.5 105.0L79.7 110.7L78.1 112.2L76.5 113.6L74.9 114.6L73.3 115.3L71.7 115.9M197.4 101.2L194.6 86.2L193.1 79.6L191.6 73.9L188.3 64.4L186.6 60.3L184.8 56.9L183.0 54.2L179.3 49.8L175.5 46.2L173.6 44.8L171.7 43.7L169.7 43.0L167.7 42.8L165.8 43.0L163.8 43.5L157.8 45.8L150.0 49.4L144.2 52.2L140.3 54.6L134.6 59.0L127.1 64.1L125.2 65.6L116.1 73.8L103.7 85.3L98.5 90.6L85.2 104.9L82.0 108.5L78.8 112.4L77.2 114.0L75.6 115.3L74.0 116.3L72.4 117.0L70.7 117.5M196.6 103.6L193.8 88.3L192.3 81.6L190.8 75.8L187.5 66.2L185.8 62.0L184.0 58.6L182.2 55.9L178.4 51.5L174.7 47.8L172.8 46.4L170.8 45.2L168.9 44.6L166.9 44.3L164.9 44.5L162.9 44.9L160.9 45.6L157.0 47.2L149.1 50.8L143.3 53.7L139.4 56.0L133.7 60.4L126.2 65.6L124.3 67.1L115.2 75.3L104.5 85.2L101.0 88.7L97.6 92.2L82.6 108.4L77.8 114.1L76.2 115.7L74.6 117.0L73.0 118.0L71.4 118.7L69.8 119.2M195.7 106.1L193.0 90.5L191.5 83.7L190.0 77.8L188.3 72.7L186.7 67.9L185.0 63.8L183.2 60.3L181.4 57.5L177.6 53.1L173.8 49.4L171.9 47.9L170.0 46.8L168.0 46.1L166.1 45.8L164.1 45.9L162.1 46.4L160.1 47.1L156.1 48.7L148.2 52.3L142.4 55.1L138.5 57.5L132.8 61.9L125.3 67.1L123.4 68.6L114.2 76.8L103.6 86.8L100.1 90.3L96.7 93.8L81.7 110.1L76.9 115.8L75.3 117.4L73.7 118.7L72.1 119.7L70.5 120.4L68.9 120.9M194.9 108.5L192.2 92.7L190.7 85.7L189.2 79.8L187.5 74.6L185.9 69.7L184.1 65.5L182.4 62.0L180.5 59.2L176.8 54.7L173.0 51.0L171.1 49.5L169.1 48.4L167.2 47.7L165.2 47.4L163.2 47.4L161.2 47.8L159.2 48.5L155.2 50.1L145.4 54.7L141.5 56.6L137.6 59.0L131.9 63.4L124.4 68.6L122.5 70.1L115.1 76.7L100.9 90.1L95.7 95.4L84.0 108.2L79.1 113.6L76.0 117.5L74.4 119.1L72.8 120.5L71.2 121.4L69.5 122.2L67.9 122.6M194.1 110.9L191.4 94.8L189.9 87.8L188.4 81.7L186.7 76.4L185.1 71.6L183.3 67.3L181.6 63.7L179.7 60.9L176.0 56.4L172.2 52.7L170.2 51.1L168.3 50.0L166.3 49.2L164.4 48.9L162.4 48.9L160.4 49.3L158.4 50.0L154.4 51.6L144.5 56.1L140.6 58.1L136.7 60.5L131.0 64.9L123.4 70.2L119.7 73.3L112.4 79.9L100.0 91.7L94.8 97.1L83.1 109.9L78.2 115.3L75.0 119.3L73.4 120.9L71.8 122.2L70.2 123.2L68.6 123.9L67.0 124.3M193.3 113.4L190.6 97.0L189.1 89.9L187.6 83.7L185.9 78.3L184.2 73.4L182.5 69.0L180.7 65.4L178.9 62.6L175.1 58.0L171.3 54.3L169.4 52.8L167.4 51.6L165.5 50.8L163.5 50.4L161.5 50.4L159.5 50.8L155.5 52.2L145.6 56.7L139.7 59.6L135.8 62.0L130.1 66.4L122.5 71.7L118.8 74.8L111.5 81.5L99.0 93.3L93.8 98.7L82.1 111.6L77.3 117.1L74.1 121.0L72.5 122.6L70.9 124.0L69.3 124.9L67.6 125.6L66.0 126.0M192.5 115.9L189.8 99.2L188.3 92.0L186.7 85.7L185.1 80.2L183.4 75.2L181.7 70.8L179.9 67.2L178.1 64.3L174.3 59.7L170.5 55.9L168.5 54.4L166.6 53.2L164.6 52.3L162.6 51.9L160.6 51.9L158.6 52.3L154.6 53.7L144.7 58.2L138.8 61.1L134.9 63.5L129.2 68.0L121.6 73.2L117.9 76.3L110.5 83.0L99.8 93.2L96.3 96.7L92.9 100.3L81.2 113.3L76.3 118.8L73.1 122.7L71.5 124.4L69.9 125.7L68.3 126.7L66.7 127.3L65.0 127.8M191.7 118.3L190.4 109.6L189.0 101.4L187.5 94.1L185.9 87.7L184.3 82.1L182.6 77.0L180.9 72.5L179.1 68.9L177.2 66.0L173.5 61.4L169.6 57.6L167.7 56.0L165.7 54.8L163.8 53.9L161.8 53.5L159.8 53.4L157.8 53.8L155.8 54.4L153.7 55.2L143.8 59.7L137.9 62.6L134.0 65.0L128.2 69.5L120.7 74.8L116.9 77.9L109.6 84.6L98.9 94.8L95.4 98.3L91.9 102.0L80.2 115.0L75.3 120.5L72.2 124.5L70.6 126.1L69.0 127.5L67.3 128.4L65.7 129.1L64.1 129.5M190.9 120.8L189.5 111.9L188.1 103.6L186.7 96.1L185.1 89.7L183.5 84.1L181.8 78.9L180.0 74.3L178.2 70.6L176.4 67.7L174.5 65.3L172.6 63.0L168.8 59.2L166.8 57.6L164.9 56.4L162.9 55.5L160.9 55.0L158.9 55.0L156.9 55.3L154.9 55.9L152.9 56.7L140.9 62.1L137.0 64.1L135.0 65.2L133.1 66.5L127.3 71.0L119.7 76.3L116.0 79.5L108.6 86.2L97.9 96.5L94.4 100.0L91.0 103.6L79.3 116.7L74.4 122.3L71.2 126.3L69.6 127.9L68.0 129.2L66.4 130.2L64.8 130.8L63.1 131.2M190.0 123.3L188.7 114.3L187.3 105.9L185.9 98.3L184.3 91.7L182.6 86.0L181.0 80.7L179.2 76.1L177.4 72.4L175.6 69.4L173.7 67.0L171.8 64.7L167.9 60.9L166.0 59.3L164.0 58.0L162.0 57.1L160.0 56.6L158.0 56.5L156.0 56.8L154.0 57.4L152.0 58.2L140.0 63.6L136.1 65.6L134.1 66.7L132.2 68.1L126.4 72.5L118.8 77.9L115.0 81.0L107.7 87.8L97.0 98.1L93.5 101.6L90.0 105.3L78.3 118.5L73.4 124.0L70.2 128.0L68.6 129.6L67.0 131.0L65.4 131.9L63.8 132.6L62.1 133.0M189.2 125.8L187.9 116.6L186.5 108.1L185.0 100.4L183.5 93.7L181.8 87.9L180.1 82.6L178.4 77.9L176.6 74.2L174.7 71.2L172.8 68.7L170.9 66.4L167.0 62.6L165.1 60.9L163.1 59.6L161.1 58.7L159.1 58.2L157.1 58.0L155.1 58.3L153.1 58.9L151.1 59.7L139.1 65.1L135.2 67.1L133.2 68.3L131.2 69.6L125.4 74.1L117.8 79.4L114.1 82.6L106.7 89.3L96.0 99.8L90.8 105.1L77.3 120.2L72.5 125.8L69.3 129.8L67.7 131.4L66.1 132.8L64.4 133.7L62.8 134.4L61.2 134.7M188.4 128.2L187.1 119.0L185.7 110.3L184.2 102.5L182.6 95.7L181.0 89.8L179.3 84.4L177.5 79.7L175.7 75.9L173.9 72.9L172.0 70.4L170.0 68.1L166.2 64.3L164.2 62.6L162.2 61.3L160.3 60.3L158.3 59.7L156.2 59.6L154.2 59.8L152.2 60.4L150.2 61.2L138.2 66.6L134.2 68.6L132.3 69.8L130.3 71.2L124.5 75.6L116.9 81.0L113.1 84.2L105.8 90.9L95.0 101.4L89.8 106.7L76.4 121.9L71.5 127.6L68.3 131.6L66.7 133.2L65.1 134.6L63.5 135.5L61.8 136.1L60.2 136.5M187.6 130.7L186.2 121.3L184.8 112.6L183.4 104.6L181.8 97.8L180.1 91.8L178.4 86.3L176.7 81.5L174.9 77.7L173.0 74.7L171.1 72.1L169.2 69.8L165.3 66.0L163.3 64.3L161.4 62.9L159.4 61.9L157.4 61.3L155.4 61.1L153.3 61.4L151.3 61.9L149.3 62.7L137.2 68.2L133.3 70.2L131.3 71.3L129.4 72.7L123.6 77.2L115.9 82.6L112.2 85.8L104.8 92.6L94.1 103.1L88.8 108.4L75.4 123.7L70.5 129.3L67.3 133.4L65.7 135.0L64.1 136.4L62.5 137.3L60.9 137.9L59.2 138.2M186.7 133.3L185.4 123.7L184.0 114.8L182.5 106.8L181.0 99.8L179.3 93.8L177.6 88.2L175.8 83.4L174.0 79.5L172.1 76.4L170.2 73.8L168.3 71.6L166.4 69.5L162.5 66.0L160.5 64.6L158.5 63.5L156.5 62.9L154.5 62.7L152.4 62.9L150.4 63.4L148.4 64.2L136.3 69.7L132.4 71.7L130.4 72.9L128.4 74.3L122.6 78.8L115.0 84.2L111.2 87.4L103.8 94.2L93.1 104.7L87.9 110.1L71.1 129.2L66.3 135.2L64.7 136.8L63.1 138.2L61.5 139.1L59.9 139.7L58.2 140.0M185.9 135.8L184.6 126.1L183.2 117.1L181.7 108.9L180.1 101.9L178.5 95.7L176.8 90.1L175.0 85.2L173.2 81.3L171.3 78.2L169.4 75.6L167.4 73.3L165.5 71.2L161.6 67.6L159.6 66.2L157.6 65.2L155.6 64.5L153.6 64.3L151.5 64.5L149.5 65.0L147.5 65.8L135.4 71.3L131.4 73.3L129.5 74.4L127.5 75.8L121.7 80.3L114.0 85.8L110.3 89.0L102.9 95.8L92.1 106.4L86.9 111.8L70.2 131.0L65.4 137.0L63.8 138.6L62.2 140.0L60.5 140.9L58.9 141.5L57.2 141.8M185.1 138.3L183.7 128.5L182.3 119.3L180.9 111.1L179.3 103.9L177.6 97.7L175.9 92.0L174.1 87.0L172.3 83.1L170.4 80.0L168.5 77.3L166.6 75.0L164.6 73.0L160.7 69.3L158.7 67.9L156.7 66.8L154.7 66.1L152.6 65.9L150.6 66.0L148.6 66.5L146.5 67.3L134.4 72.8L130.5 74.8L128.5 76.0L126.5 77.4L120.7 81.9L113.1 87.4L109.3 90.6L101.9 97.4L91.1 108.1L85.9 113.5L69.2 132.8L64.4 138.8L62.8 140.4L61.2 141.8L59.5 142.7L57.9 143.3L56.2 143.5M184.2 140.8L182.9 130.9L181.5 121.6L180.0 113.2L178.4 106.0L176.8 99.7L175.1 93.9L173.3 88.9L171.4 84.9L169.6 81.7L167.6 79.1L165.7 76.8L163.7 74.7L159.8 71.0L157.8 69.6L155.8 68.5L153.8 67.8L151.7 67.5L149.7 67.6L147.7 68.1L145.6 68.8L133.5 74.4L129.5 76.4L127.6 77.6L119.7 83.5L112.1 89.0L108.3 92.2L100.9 99.1L90.1 109.8L84.9 115.2L68.2 134.6L63.4 140.6L61.8 142.2L60.2 143.6L58.5 144.5L56.9 145.1L55.2 145.3M183.4 143.4L182.0 133.3L180.6 123.9L179.2 115.4L177.6 108.1L175.9 101.7L174.2 95.8L172.4 90.7L170.6 86.7L168.7 83.5L166.7 80.9L164.8 78.5L162.8 76.4L158.9 72.8L156.9 71.3L154.9 70.1L152.9 69.4L150.8 69.0L148.8 69.1L146.7 69.6L144.7 70.4L132.6 76.0L128.6 78.0L126.6 79.2L118.8 85.1L111.1 90.6L107.3 93.8L99.9 100.7L89.2 111.5L83.9 116.9L67.2 136.4L62.4 142.4L60.8 144.1L59.2 145.5L57.5 146.3L55.9 146.9L54.2 147.1M182.5 145.9L181.2 135.7L179.8 126.2L178.3 117.6L176.7 110.1L175.0 103.7L173.3 97.7L171.6 92.6L169.7 88.5L167.8 85.3L165.9 82.7L163.9 80.3L161.9 78.2L158.0 74.5L156.0 73.0L154.0 71.8L151.9 71.0L149.9 70.7L147.9 70.7L145.8 71.2L143.8 72.0L131.6 77.5L127.6 79.5L125.6 80.8L117.8 86.7L110.1 92.3L106.4 95.5L98.9 102.4L88.2 113.2L82.9 118.6L81.2 120.5L66.2 138.2L61.4 144.3L59.8 145.9L58.2 147.3L56.5 148.2L54.9 148.7L53.2 148.9M181.7 148.5L180.3 138.2L178.9 128.5L177.5 119.8L175.9 112.2L174.2 105.7L172.5 99.7L170.7 94.5L168.8 90.4L166.9 87.1L165.0 84.4L163.0 82.1L161.0 80.0L157.1 76.2L155.1 74.7L153.0 73.5L151.0 72.7L149.0 72.3L146.9 72.3L144.9 72.8L142.8 73.5L130.6 79.1L126.7 81.1L124.7 82.4L116.8 88.3L109.1 93.9L105.4 97.1L97.9 104.0L81.9 120.3L80.2 122.2L68.4 136.1L63.6 142.0L60.4 146.1L58.8 147.8L57.2 149.2L55.5 150.0L53.9 150.6L52.2 150.7M180.8 151.1L179.5 140.6L178.1 130.8L176.6 122.0L175.0 114.3L173.3 107.7L171.6 101.6L169.8 96.4L167.9 92.2L166.0 89.0L164.1 86.2L162.1 83.8L160.1 81.7L156.2 77.9L154.1 76.4L152.1 75.1L150.1 74.3L148.0 73.9L146.0 73.9L143.9 74.4L141.9 75.1L129.7 80.7L125.7 82.7L123.7 84.0L115.8 90.0L108.2 95.5L104.4 98.8L96.9 105.7L80.9 122.1L79.2 124.0L67.4 138.0L62.6 143.8L59.4 147.9L57.8 149.6L56.2 151.0L54.5 151.9L52.9 152.4L51.2 152.6M180.0 153.6L178.6 143.0L177.2 133.1L175.7 124.2L174.1 116.5L172.4 109.7L170.7 103.6L168.9 98.3L167.1 94.1L165.1 90.8L163.2 88.0L161.2 85.6L157.2 81.5L155.2 79.7L153.2 78.1L151.2 76.8L149.2 76.0L147.1 75.5L145.1 75.5L143.0 76.0L140.9 76.7L128.7 82.3L124.7 84.3L122.7 85.6L114.9 91.6L109.1 95.7L105.3 98.8L95.9 107.4L79.9 123.8L78.2 125.7L66.4 139.8L61.5 145.7L58.4 149.8L56.8 151.5L55.2 152.9L53.5 153.7L51.9 154.2L50.2 154.4M179.1 156.2L177.8 145.5L176.4 135.5L174.9 126.4L173.3 118.6L171.6 111.8L169.8 105.5L168.0 100.2L166.2 95.9L164.2 92.6L162.3 89.9L160.3 87.4L156.3 83.3L154.3 81.4L152.3 79.8L150.3 78.5L148.2 77.6L146.2 77.2L144.1 77.1L142.0 77.6L140.0 78.3L133.8 81.2L127.7 83.9L123.7 86.0L121.7 87.2L115.8 91.8L108.1 97.4L104.3 100.4L94.9 109.0L78.9 125.6L77.1 127.5L65.4 141.6L60.5 147.5L57.3 151.7L55.7 153.3L54.1 154.8L52.5 155.6L50.8 156.1L49.2 156.2M178.2 158.8L176.9 148.0L175.5 137.8L174.0 128.6L172.4 120.7L170.7 113.8L169.0 107.5L167.1 102.1L165.3 97.8L163.3 94.5L161.4 91.7L159.4 89.2L155.4 85.1L153.4 83.2L151.4 81.6L149.3 80.2L147.3 79.3L145.2 78.8L143.2 78.8L141.1 79.2L139.0 79.9L132.9 82.9L126.8 85.6L122.8 87.6L120.8 88.8L114.8 93.4L107.1 99.1L103.2 102.1L93.9 110.7L77.8 127.3L76.1 129.3L64.4 143.4L59.5 149.4L56.3 153.5L54.7 155.2L53.1 156.6L51.5 157.4L49.8 157.9L48.1 158.1M177.4 161.4L176.1 150.4L174.6 140.2L173.1 130.9L171.5 122.9L169.8 115.9L168.1 109.5L166.3 104.0L164.4 99.7L162.4 96.3L160.5 93.5L158.5 91.0L154.5 86.9L152.5 85.0L150.4 83.3L148.4 82.0L146.3 81.0L144.3 80.5L142.2 80.4L140.1 80.8L138.1 81.5L131.9 84.5L125.8 87.2L121.8 89.2L119.8 90.5L113.8 95.1L106.1 100.7L102.2 103.8L92.9 112.4L76.8 129.1L75.1 131.0L63.3 145.3L58.5 151.3L55.3 155.4L53.7 157.1L52.1 158.5L50.5 159.3L48.8 159.8L47.1 159.9M176.5 164.0L175.2 152.9L173.8 142.5L172.2 133.1L170.6 125.0L168.9 117.9L167.2 111.5L165.4 105.9L163.5 101.6L161.5 98.2L159.6 95.3L157.6 92.9L153.5 88.7L151.5 86.8L149.5 85.1L147.4 83.7L145.4 82.7L143.3 82.1L141.2 82.1L139.2 82.4L137.1 83.2L130.9 86.1L124.8 88.8L120.8 90.9L118.8 92.1L112.8 96.8L105.0 102.4L101.2 105.5L91.9 114.2L75.8 130.9L74.0 132.8L62.3 147.1L57.5 153.1L54.3 157.3L52.7 159.0L51.1 160.4L49.4 161.2L47.8 161.7L46.1 161.8M175.7 166.6L174.3 155.4L172.9 144.9L171.4 135.4L169.7 127.2L168.0 120.0L166.3 113.5L164.5 107.9L162.6 103.5L160.6 100.1L158.6 97.2L156.6 94.7L152.6 90.5L150.6 88.6L148.5 86.8L146.5 85.4L144.4 84.4L142.4 83.8L140.3 83.7L138.2 84.1L136.1 84.8L129.9 87.8L123.8 90.5L119.8 92.5L117.8 93.8L111.8 98.4L104.0 104.1L100.2 107.2L90.8 115.9L74.7 132.7L73.0 134.6L61.3 149.0L53.2 159.2L51.6 160.9L50.0 162.3L48.4 163.1L46.7 163.6L45.0 163.6M174.8 169.2L173.4 157.9L172.0 147.3L170.5 137.6L168.9 129.3L167.1 122.1L165.4 115.5L163.6 109.8L161.7 105.4L159.7 101.9L157.7 99.1L155.7 96.6L151.7 92.3L149.6 90.4L147.6 88.6L145.5 87.2L143.5 86.1L141.4 85.5L139.3 85.4L137.2 85.7L135.1 86.4L128.9 89.4L122.8 92.1L118.8 94.2L116.8 95.5L110.8 100.1L103.0 105.8L99.2 108.9L89.8 117.6L73.7 134.4L72.0 136.4L60.2 150.8L52.2 161.1L50.6 162.8L49.0 164.2L47.3 165.0L45.7 165.5L44.0 165.5M173.9 171.9L172.6 160.4L171.1 149.6L169.6 139.9L168.0 131.5L166.2 124.2L164.5 117.5L162.6 111.8L160.7 107.3L158.8 103.8L156.8 100.9L154.8 98.4L150.7 94.1L146.6 90.4L144.6 88.9L142.5 87.8L140.4 87.2L138.3 87.0L136.2 87.4L134.2 88.1L127.9 91.1L121.8 93.8L117.8 95.8L115.7 97.1L109.8 101.8L102.0 107.5L98.1 110.6L88.8 119.3L72.6 136.2L70.9 138.2L59.2 152.7L51.2 163.0L49.6 164.7L48.0 166.1L46.3 166.9L44.6 167.4L42.9 167.4M173.0 174.5L171.7 162.9L170.2 152.0L168.7 142.2L167.1 133.7L165.3 126.3L163.6 119.5L161.7 113.7L159.8 109.2L157.8 105.7L155.9 102.8L153.8 100.3L151.8 98.1L147.7 94.0L145.7 92.2L143.6 90.7L141.5 89.6L139.4 88.9L137.4 88.7L135.3 89.0L133.2 89.8L126.9 92.8L120.8 95.5L116.7 97.5L114.7 98.8L108.8 103.5L100.9 109.2L97.1 112.3L87.7 121.1L71.6 138.1L69.9 140.0L58.1 154.6L50.1 164.9L48.5 166.6L46.9 168.1L45.3 168.8L43.6 169.3L41.9 169.3M172.2 177.2L170.8 165.4L169.3 154.4L167.8 144.5L166.2 135.9L164.4 128.4L162.7 121.6L160.8 115.7L158.9 111.2L156.9 107.7L154.9 104.7L152.9 102.1L150.9 99.9L146.8 95.8L144.7 94.0L142.6 92.5L140.5 91.3L138.5 90.6L136.4 90.4L134.3 90.7L132.2 91.4L125.9 94.5L119.8 97.2L115.7 99.2L113.7 100.5L107.7 105.2L99.9 110.9L96.1 114.1L86.7 122.8L70.5 139.9L68.8 141.8L57.1 156.5L49.1 166.8L47.5 168.6L45.9 170.0L44.2 170.7L42.5 171.2L40.8 171.2M171.3 179.8L169.9 168.0L168.5 156.8L166.9 146.8L165.3 138.1L163.5 130.5L161.7 123.6L159.9 117.7L158.0 113.1L156.0 109.6L154.0 106.6L151.9 104.0L149.9 101.8L145.8 97.7L143.7 95.8L141.6 94.3L139.6 93.1L137.5 92.3L135.4 92.1L133.3 92.4L131.2 93.1L124.9 96.2L118.8 98.8L114.7 100.9L112.7 102.2L106.7 107.0L98.9 112.7L95.0 115.8L85.6 124.6L69.5 141.7L67.7 143.7L56.0 158.4L48.0 168.8L46.4 170.5L44.8 171.9L43.1 172.7L41.5 173.1L39.8 173.1M170.4 182.5L169.0 170.5L167.6 159.3L166.0 149.1L164.4 140.3L162.6 132.7L160.8 125.7L159.0 119.7L157.0 115.1L155.0 111.5L153.0 108.5L151.0 105.9L148.9 103.7L144.8 99.5L142.7 97.6L140.7 96.0L138.6 94.8L136.5 94.0L134.4 93.8L132.3 94.1L130.2 94.8L123.9 97.9L117.7 100.5L113.7 102.6L111.6 103.9L107.6 107.2L97.8 114.4L94.0 117.6L84.5 126.4L68.4 143.5L66.7 145.5L55.0 160.3L47.0 170.7L45.4 172.4L43.8 173.9L42.1 174.6L40.4 175.0L38.7 175.0M169.5 185.2L168.1 173.0L166.7 161.7L165.1 151.4L163.4 142.5L161.7 134.8L159.9 127.7L158.0 121.7L156.1 117.0L154.1 113.4L152.1 110.4L150.0 107.8L148.0 105.6L143.8 101.4L141.8 99.5L139.7 97.8L137.6 96.6L135.5 95.8L133.4 95.5L131.3 95.8L129.2 96.5L127.1 97.4L122.9 99.6L116.7 102.3L112.6 104.3L110.6 105.6L106.6 108.9L98.7 114.7L92.9 119.3L83.5 128.1L67.3 145.4L65.6 147.3L53.9 162.2L45.9 172.7L44.3 174.4L42.7 175.8L41.0 176.6L39.3 177.0L37.6 176.9M168.6 187.8L167.2 175.6L165.8 164.1L164.2 153.8L162.5 144.8L160.8 137.0L159.0 129.8L157.1 123.7L155.1 119.0L153.1 115.4L151.1 112.3L149.1 109.7L147.0 107.5L142.9 103.2L140.8 101.3L138.7 99.7L136.6 98.4L134.5 97.5L132.4 97.2L130.3 97.5L128.1 98.2L126.0 99.1L121.9 101.3L115.7 104.0L111.6 106.0L109.6 107.4L103.6 112.2L97.6 116.4L91.8 121.1L82.4 129.9L66.3 147.2L64.5 149.2L52.8 164.1L44.8 174.6L43.2 176.3L41.6 177.8L40.0 178.5L38.3 178.9L36.5 178.9M167.7 190.5L166.3 178.2L164.9 166.6L163.3 156.1L161.6 147.0L159.8 139.1L158.0 131.9L156.1 125.7L154.2 121.0L152.2 117.4L150.2 114.3L148.1 111.6L146.0 109.4L141.9 105.1L139.8 103.2L137.7 101.5L135.6 100.2L133.5 99.3L131.4 99.0L129.2 99.2L127.1 99.9L125.0 100.9L120.8 103.0L114.6 105.7L110.5 107.8L108.5 109.1L104.5 112.4L96.6 118.2L90.8 122.9L81.3 131.7L65.2 149.1L63.4 151.1L53.4 164.0L43.8 176.6L42.2 178.3L40.5 179.8L38.9 180.5L37.2 180.9L35.5 180.8M166.8 193.2L165.4 180.7L163.9 169.0L162.4 158.5L160.7 149.3L158.9 141.3L157.1 134.0L155.2 127.8L153.2 123.0L151.2 119.3L149.2 116.2L147.1 113.6L145.0 111.3L140.9 107.0L138.8 105.0L136.7 103.3L134.6 102.0L132.5 101.1L130.3 100.7L128.2 101.0L126.1 101.6L124.0 102.6L119.8 104.8L113.6 107.4L109.5 109.5L107.4 110.9L103.4 114.2L95.5 120.0L89.7 124.7L80.2 133.5L64.1 150.9L62.4 152.9L52.3 165.9L42.7 178.6L41.1 180.3L39.5 181.8L37.8 182.5L36.1 182.8L34.4 182.7M165.9 195.9L164.5 183.3L163.0 171.5L161.4 160.8L159.7 151.5L158.0 143.5L156.1 136.1L154.2 129.8L152.3 125.0L150.3 121.3L148.2 118.2L146.1 115.5L144.1 113.2L139.9 108.9L137.8 106.9L135.7 105.2L133.6 103.8L131.4 102.8L129.3 102.5L127.2 102.7L125.1 103.4L123.0 104.3L118.8 106.5L112.5 109.2L108.4 111.3L106.4 112.6L102.4 116.0L94.4 121.8L88.6 126.5L79.2 135.3L63.0 152.8L61.3 154.8L51.2 167.8L41.6 180.5L40.0 182.3L38.4 183.8L36.7 184.4L35.0 184.8L33.3 184.7M165.0 198.7L163.6 185.9L162.1 174.0L160.5 163.2L158.8 153.8L157.0 145.7L155.2 138.2L153.3 131.9L151.3 127.0L149.3 123.3L147.2 120.1L145.2 117.5L138.9 110.8L136.8 108.8L134.7 107.0L132.5 105.6L130.4 104.6L128.3 104.2L126.2 104.5L124.0 105.1L121.9 106.1L117.7 108.3L111.5 110.9L107.4 113.0L105.3 114.4L101.3 117.8L99.3 119.3L93.3 123.5L87.5 128.3L78.1 137.2L61.9 154.7L60.2 156.7L50.1 169.8L40.5 182.5L38.9 184.3L37.3 185.7L35.6 186.4L33.9 186.8L32.2 186.6"/>
<line x1="211.8" y1="27.4" x2="169.2" y2="113.9" class="dt"/>
<line x1="163.8" y1="223.8" x2="169.2" y2="113.9" class="dt"/>
<line x1="169.2" y1="113.9" x2="21.7" y2="79.7" class="dt"/>
<line x1="144.5" y1="218.6" x2="143.1" y2="224.6" class="tk"/>
<text x="141.6" y="230.5" class="tl">4</text>
<line x1="106.8" y1="208.5" x2="105.3" y2="214.4" class="tk"/>
<text x="103.9" y="220.2" class="tl">6</text>
<line x1="70.0" y1="198.6" x2="68.6" y2="204.4" class="tk"/>
<text x="67.1" y="210.2" class="tl">8</text>
<line x1="34.1" y1="189.0" x2="32.7" y2="194.7" class="tk"/>
<text x="31.2" y="200.4" class="tl">10</text>
<line x1="202.7" y1="133.7" x2="206.2" y2="137.4" class="tk"/>
<text x="209.6" y="141.1" class="tl">0</text>
<line x1="195.9" y1="149.4" x2="199.5" y2="153.2" class="tk"/>
<text x="203.0" y="157.0" class="tl">10</text>
<line x1="188.8" y1="165.8" x2="192.4" y2="169.7" class="tk"/>
<text x="196.1" y="173.5" class="tl">20</text>
<line x1="181.4" y1="183.0" x2="185.1" y2="186.9" class="tk"/>
<text x="188.8" y="190.8" class="tl">30</text>
<line x1="173.6" y1="201.0" x2="177.4" y2="205.0" class="tk"/>
<text x="181.3" y="208.9" class="tl">40</text>
<line x1="165.4" y1="219.9" x2="169.4" y2="223.9" class="tk"/>
<text x="173.3" y="227.9" class="tl">50</text>
<line x1="30.6" y1="170.3" x2="25.0" y2="172.1" class="tk"/>
<text x="19.3" y="173.9" class="tl">0.7</text>
<line x1="27.8" y1="142.3" x2="22.0" y2="144.0" class="tk"/>
<text x="16.2" y="145.8" class="tl">0.8</text>
<line x1="24.9" y1="112.5" x2="18.9" y2="114.2" class="tk"/>
<text x="12.9" y="116.0" class="tl">0.9</text>
<line x1="21.8" y1="80.7" x2="15.6" y2="82.4" class="tk"/>
<text x="9.3" y="84.1" class="tl">1.0</text>
<text transform="translate(83.2 223.9) rotate(15.1)" class="tt">Average wind speed</text>
<text transform="translate(198.0 187.8) rotate(-66.6)" class="tt">Lag (weeks)</text>
<text transform="translate(5.6 133.8) rotate(84.4)" class="tt">RR</text>
<line x1="446.3" y1="136.2" x2="455.5" y2="30.0" class="bx"/>
<line x1="446.3" y1="136.2" x2="407.4" y2="226.4" class="bx"/>
<line x1="446.3" y1="136.2" x2="327.6" y2="108.3" class="bx"/>
<line x1="455.5" y1="30.0" x2="323.7" y2="3.7" class="bx"/>
<line x1="407.4" y1="226.4" x2="276.0" y2="191.1" class="bx"/>
<line x1="327.6" y1="108.3" x2="323.7" y2="3.7" class="bx"/>
<line x1="327.6" y1="108.3" x2="276.0" y2="191.1" class="bx"/>
<line x1="323.7" y1="3.7" x2="265.3" y2="82.3" class="bx"/>
<line x1="276.0" y1="191.1" x2="265.3" y2="82.3" class="bx"/>
<path fill="#0a0f12" d="M419.1 195.2L439.7 150.4L446.3 136.2L440.8 133.5L435.4 130.7L429.9 127.7L421.7 123.1L419.0 121.7L416.2 120.3L413.5 119.0L410.7 117.8L408.0 116.7L405.2 115.7L402.5 114.9L399.7 114.1L397.0 113.4L391.5 112.3L383.3 110.7L375.1 109.3L367.0 108.1L345.7 105.0L340.4 104.2L337.8 103.7L335.2 103.2L332.5 102.4L329.9 101.4L327.3 99.9L324.5 101.3L319.7 103.7L316.7 105.1L314.7 105.9L313.7 106.2L312.6 106.5L310.5 106.9L308.4 107.1L306.2 107.2L304.0 107.1L301.8 107.0L298.3 106.6L296.0 106.3L293.6 105.9L292.4 105.6L291.1 105.2L289.9 104.8L288.6 104.3L287.3 103.7L286.0 103.0L284.7 102.2L283.3 101.3L282.0 100.2L280.6 99.0L279.1 97.7L277.7 96.2L274.7 93.0L271.7 89.4L265.3 81.8L269.3 91.2L273.5 103.4L277.7 116.3L281.8 128.2L285.7 138.3L289.3 146.3L292.8 152.9L296.2 158.4L299.5 163.4L302.8 168.0L306.0 172.4L309.2 176.5L312.4 180.2L315.5 183.5L318.7 186.3L321.7 188.7L324.8 190.7L327.8 192.4L330.8 193.8L333.9 195.0L336.9 196.1L339.9 196.9L342.9 197.7L346.0 198.3L349.0 198.9L355.1 199.9L358.2 200.5L361.2 201.1L364.3 202.0L367.4 203.0L370.5 204.1L373.6 205.3L379.7 207.9L392.1 213.2L395.3 214.5L398.4 215.7L401.5 216.8L404.6 217.7L407.8 218.4L409.5 215.2L411.1 212.0L414.3 205.3Z"/>
<path fill="#6ba3c6" stroke="#6ba3c6" stroke-width=".35" d="M357.3 108.9L368.1 110.8L379.0 112.9L387.2 114.8L395.4 116.8L397.0 113.4L388.7 111.7L380.6 110.2L369.7 108.5L359.0 106.9ZM346.0 198.3L352.0 199.4L354.0 196.4L347.9 195.0Z"/>
<path fill="#6ca5c8" stroke="#6ca5c8" stroke-width=".35" d="M348.3 105.4L346.6 107.1L357.3 108.9L359.0 106.9ZM355.6 111.1L366.4 113.2L368.1 110.8L357.3 108.9ZM395.4 116.8L400.9 118.4L402.5 114.9L397.0 113.4ZM352.0 199.4L358.2 200.5L360.1 197.8L354.0 196.4Z"/>
<path fill="#6da7ca" stroke="#6da7ca" stroke-width=".35" d="M336.0 105.2L346.6 107.1L348.3 105.4L337.8 103.7ZM344.9 108.9L355.6 111.1L357.3 108.9L346.6 107.1ZM353.9 113.3L364.8 115.8L366.4 113.2L355.6 111.1ZM347.9 195.0L354.0 196.4L355.9 193.2L349.9 191.6ZM339.9 196.9L342.9 197.7L346.0 198.3L347.9 195.0L341.9 193.3ZM366.4 113.2L377.3 115.7L382.8 117.1L388.3 118.6L393.9 120.2L395.4 116.8L389.9 115.4L381.7 113.5L376.2 112.4L368.1 110.8Z"/>
<path fill="#6ea8cc" stroke="#6ea8cc" stroke-width=".35" d="M334.2 106.7L344.9 108.9L346.6 107.1L336.0 105.2ZM348.5 112.1L353.9 113.3L355.6 111.1L350.2 110.0ZM352.1 115.7L363.1 118.4L364.8 115.8L353.9 113.3ZM354.0 196.4L360.1 197.8L362.0 194.9L355.9 193.2ZM364.8 115.8L378.5 119.3L386.7 121.7L388.3 118.6L377.3 115.7L366.4 113.2ZM393.9 120.2L399.4 121.9L400.9 118.4L395.4 116.8Z"/>
<path fill="#6faace" stroke="#6faace" stroke-width=".35" d="M332.4 108.1L348.5 112.1L350.2 110.0L334.2 106.7ZM346.7 114.3L352.1 115.7L353.9 113.3L348.5 112.1ZM350.4 118.1L361.4 121.1L366.9 122.7L368.6 119.9L379.6 123.1L381.2 120.1L373.0 117.8L364.8 115.8L363.1 118.4L352.1 115.7ZM349.9 191.6L362.0 194.9L363.8 191.8L351.8 188.1ZM347.9 195.0L349.9 191.6L343.9 189.7L341.9 193.3ZM400.9 118.4L406.5 120.4L408.0 116.7L405.2 115.7L402.5 114.9ZM386.7 121.7L397.8 125.3L399.4 121.9L393.9 120.2L388.3 118.6ZM364.3 202.0L366.2 199.4L360.1 197.8L358.2 200.5L361.2 201.1ZM404.6 217.7L407.8 218.4L409.5 215.2L406.3 214.4L403.2 213.4L401.5 216.8Z"/>
<path fill="#70acd0" stroke="#70acd0" stroke-width=".35" d="M341.3 112.8L346.7 114.3L348.5 112.1L343.1 110.8ZM344.9 116.6L350.4 118.1L352.1 115.7L346.7 114.3ZM348.6 120.7L359.6 123.9L365.2 125.6L366.9 122.7L358.6 120.3L350.4 118.1ZM351.8 188.1L363.8 191.8L365.7 188.6L353.7 184.7ZM343.9 189.7L349.9 191.6L351.8 188.1L345.8 186.1ZM339.9 196.9L341.9 193.3L338.9 192.3L335.9 191.2L333.9 195.0L336.9 196.1ZM360.1 197.8L366.2 199.4L368.0 196.6L369.9 193.6L363.8 191.8L362.0 194.9ZM399.4 121.9L404.9 123.9L406.5 120.4L400.9 118.4ZM366.9 122.7L375.2 125.3L383.5 128.0L385.1 124.9L396.3 128.7L397.8 125.3L389.5 122.6L381.2 120.1L379.6 123.1L368.6 119.9ZM409.5 215.2L411.1 212.0L404.9 210.0L403.2 213.4L406.3 214.4Z"/>
<path fill="#72add2" stroke="#72add2" stroke-width=".35" d="M336.0 105.2L337.8 103.7L335.2 103.2L332.5 102.4L330.7 103.8L333.4 104.6ZM330.5 109.6L341.3 112.8L343.1 110.8L332.4 108.1ZM348.6 120.7L350.4 118.1L344.9 116.6L343.1 119.0ZM352.4 124.9L350.6 127.7L356.2 129.5L357.9 126.7L366.3 129.4L374.6 132.4L376.3 129.3L387.5 133.2L389.1 130.0L394.7 132.0L396.3 128.7L385.1 124.9L383.5 128.0L375.2 125.3L366.9 122.7L365.2 125.6L356.9 123.0L348.6 120.7L346.8 123.2ZM371.1 178.5L365.2 176.5L363.4 179.9L357.5 177.8L353.7 184.7L365.7 188.6L363.8 191.8L369.9 193.6L376.0 195.6L377.8 192.5L383.8 194.5L385.6 191.2L397.7 195.3L399.3 192.0L405.4 194.0L413.4 177.2L407.5 175.1L412.2 165.2L406.4 163.2L408.0 159.9L396.4 155.9L393.2 162.5L387.4 160.4L380.6 173.9L374.7 171.8ZM351.8 188.1L353.7 184.7L347.7 182.6L345.8 186.1ZM341.9 193.3L343.9 189.7L340.9 188.6L337.9 187.5L335.9 191.2L338.9 192.3ZM412.0 122.6L413.5 119.0L410.7 117.8L408.0 116.7L406.5 120.4ZM396.3 128.7L401.8 130.7L404.9 123.9L399.4 121.9Z"/>
<path fill="#73afd4" stroke="#73afd4" stroke-width=".35" d="M334.2 106.7L336.0 105.2L333.4 104.6L330.7 103.8L328.9 105.1L331.5 106.0ZM346.7 114.3L341.3 112.8L339.5 114.9L344.9 116.6ZM348.6 120.7L343.1 119.0L341.3 121.4L346.8 123.2ZM343.2 128.5L360.0 134.5L382.6 142.9L368.8 169.7L363.0 167.4L357.5 177.8L363.4 179.9L365.2 176.5L371.1 178.5L374.7 171.8L380.6 173.9L387.4 160.4L393.2 162.5L396.4 155.9L408.0 159.9L406.4 163.2L412.2 165.2L407.5 175.1L413.4 177.2L421.1 160.8L415.3 158.7L418.3 152.3L412.6 150.2L414.1 146.9L408.4 144.8L410.0 141.6L404.3 139.4L408.2 131.2L412.0 122.6L406.5 120.4L401.8 130.7L396.3 128.7L394.7 132.0L389.1 130.0L387.5 133.2L376.3 129.3L374.6 132.4L366.3 129.4L357.9 126.7L356.2 129.5L350.6 127.7L352.4 124.9L346.8 123.2ZM353.7 184.7L357.5 177.8L351.6 175.5L347.7 182.6ZM345.8 186.1L339.8 183.8L337.9 187.5L340.9 188.6L343.9 189.7ZM376.0 195.6L369.9 193.6L368.0 196.6L366.2 199.4L372.3 201.5L374.1 198.7ZM397.7 195.3L385.6 191.2L383.8 194.5L377.8 192.5L376.0 195.6L385.1 198.8L400.4 204.3L398.7 207.7L404.9 210.0L411.1 212.0L414.3 205.3L408.2 203.1L417.8 182.7L411.8 180.5L405.4 194.0L399.3 192.0Z"/>
<path fill="#74b1d7" stroke="#74b1d7" stroke-width=".35" d="M332.4 108.1L334.2 106.7L331.5 106.0L328.9 105.1L327.0 106.3L329.7 107.4ZM328.6 111.1L339.5 114.9L341.3 112.8L330.5 109.6ZM343.1 119.0L344.9 116.6L339.5 114.9L337.7 117.0ZM345.0 125.9L346.8 123.2L341.3 121.4L339.5 123.8ZM347.0 133.3L345.2 136.2L362.1 142.9L360.4 146.1L366.1 148.4L351.6 175.5L357.5 177.8L363.0 167.4L368.8 169.7L382.6 142.9L360.0 134.5L343.2 128.5L341.4 131.2ZM345.8 186.1L347.7 182.6L341.8 180.1L339.8 183.8ZM383.3 202.0L398.7 207.7L400.4 204.3L385.1 198.8L376.0 195.6L374.1 198.7ZM370.5 204.1L372.3 201.5L366.2 199.4L364.3 202.0L367.4 203.0ZM410.5 126.1L404.3 139.4L410.0 141.6L408.4 144.8L414.1 146.9L412.6 150.2L418.3 152.3L415.3 158.7L421.1 160.8L425.5 151.3L419.8 149.1L421.3 145.9L415.6 143.7L418.6 137.4L413.0 135.1L416.0 128.5ZM418.1 167.3L411.8 180.5L417.8 182.7L423.9 169.5ZM408.2 203.1L414.3 205.3L417.5 198.5L411.5 196.2ZM398.4 215.7L401.5 216.8L404.9 210.0L398.7 207.7L395.3 214.5Z"/>
<path fill="#75b3d9" stroke="#75b3d9" stroke-width=".35" d="M345.2 136.2L347.0 133.3L341.4 131.2L339.5 133.9ZM343.3 139.1L354.7 143.8L351.0 150.2L356.8 152.6L341.8 180.1L347.7 182.6L366.1 148.4L360.4 146.1L362.1 142.9L345.2 136.2ZM333.9 195.0L335.9 191.2L332.9 189.9L329.8 188.5L327.8 192.4L330.8 193.8ZM377.2 199.7L374.1 198.7L372.3 201.5L378.5 203.8L397.0 211.1L398.7 207.7ZM410.5 126.1L416.0 128.5L419.0 121.7L413.5 119.0ZM418.6 137.4L420.1 134.2L414.5 131.8L413.0 135.1ZM415.6 143.7L421.3 145.9L419.8 149.1L425.5 151.3L428.4 145.1L422.8 142.8L424.2 139.7L418.6 137.4ZM424.1 154.5L418.1 167.3L423.9 169.5L429.8 156.8ZM417.8 182.7L411.5 196.2L417.5 198.5L423.7 185.1Z"/>
<path fill="#76b4db" stroke="#76b4db" stroke-width=".35" d="M327.8 108.7L330.5 109.6L332.4 108.1L329.7 107.4L327.0 106.3L325.1 107.5ZM332.2 114.8L337.7 117.0L339.5 114.9L334.0 113.0ZM335.8 119.1L341.3 121.4L343.1 119.0L337.7 117.0ZM343.2 128.5L345.0 125.9L339.5 123.8L337.6 126.3ZM343.3 139.1L345.2 136.2L339.5 133.9L337.7 136.6ZM341.5 142.0L347.2 144.5L345.3 147.6L351.0 150.2L354.7 143.8L343.3 139.1ZM351.0 150.2L345.5 160.1L351.3 162.7L356.8 152.6ZM332.9 189.9L335.9 191.2L337.9 187.5L334.9 186.1L331.9 184.7L329.8 188.5ZM420.1 134.2L421.5 131.0L416.0 128.5L414.5 131.8ZM424.2 139.7L425.7 136.7L420.1 134.2L418.6 137.4ZM422.8 142.8L428.4 145.1L429.8 142.1L424.2 139.7ZM424.1 154.5L429.8 156.8L432.6 150.7L427.0 148.2ZM423.9 169.5L417.8 182.7L423.7 185.1L429.7 172.1ZM376.6 206.6L378.5 203.8L372.3 201.5L370.5 204.1ZM395.3 214.5L397.0 211.1L390.8 208.7L389.0 211.9Z"/>
<path fill="#77b6dd" stroke="#77b6dd" stroke-width=".35" d="M326.7 112.5L332.2 114.8L334.0 113.0L328.6 111.1ZM341.4 131.2L343.2 128.5L337.6 126.3L335.8 128.7L338.6 130.0ZM341.5 142.0L343.3 139.1L337.7 136.6L335.8 139.4ZM339.6 145.0L345.3 147.6L347.2 144.5L341.5 142.0ZM341.6 154.0L347.3 156.7L351.0 150.2L345.3 147.6ZM340.7 168.6L331.9 184.7L334.9 186.1L337.9 187.5L351.3 162.7L345.5 160.1ZM416.0 128.5L421.5 131.0L423.0 127.8L417.5 125.1ZM425.7 136.7L424.2 139.7L429.8 142.1L432.6 136.2L421.5 131.0L420.1 134.2ZM427.0 148.2L432.6 150.7L435.4 144.7L429.8 142.1ZM428.3 160.0L423.9 169.5L429.7 172.1L434.1 162.6ZM376.6 206.6L389.0 211.9L390.8 208.7L378.5 203.8Z"/>
<path fill="#78b8df" stroke="#78b8df" stroke-width=".35" d="M323.2 108.7L325.9 110.0L328.6 111.1L330.5 109.6L327.8 108.7L325.1 107.5ZM330.3 116.6L335.8 119.1L337.7 117.0L332.2 114.8ZM336.7 122.6L339.5 123.8L341.3 121.4L335.8 119.1L333.9 121.3ZM417.5 125.1L423.0 127.8L424.4 124.7L419.0 121.7ZM336.7 132.6L339.5 133.9L341.4 131.2L338.6 130.0L335.8 128.7L333.9 131.2ZM337.7 148.0L343.4 150.8L345.3 147.6L339.6 145.0ZM343.6 163.4L347.3 156.7L341.6 154.0L337.7 160.5ZM421.5 131.0L432.6 136.2L434.0 133.4L423.0 127.8ZM432.6 136.2L429.8 142.1L435.4 144.7L438.2 138.9ZM432.6 150.7L428.3 160.0L434.1 162.6L438.3 153.4Z"/>
<path fill="#7ab9e1" stroke="#7ab9e1" stroke-width=".35" d="M324.8 114.0L330.3 116.6L332.2 114.8L326.7 112.5ZM334.9 124.9L337.6 126.3L339.5 123.8L336.7 122.6L333.9 121.3L332.1 123.5ZM334.8 135.3L337.7 136.6L339.5 133.9L336.7 132.6L333.9 131.2L332.0 133.8ZM333.9 142.2L339.6 145.0L341.5 142.0L335.8 139.4ZM335.8 151.0L341.6 154.0L343.4 150.8L337.7 148.0ZM337.7 160.5L333.8 167.1L339.7 170.3L343.6 163.4ZM423.0 127.8L428.5 130.7L429.9 127.7L424.4 124.7ZM435.4 130.7L432.6 136.2L438.2 138.9L439.5 136.1L445.0 138.9L446.3 136.2ZM436.8 141.8L432.6 150.7L438.3 153.4L442.4 144.6Z"/>
<path fill="#7bbbe3" stroke="#7bbbe3" stroke-width=".35" d="M321.2 109.8L324.0 111.3L326.7 112.5L328.6 111.1L325.9 110.0L323.2 108.7ZM328.4 118.5L333.9 121.3L335.8 119.1L330.3 116.6ZM331.9 144.9L337.7 148.0L339.6 145.0L333.9 142.2ZM333.8 167.1L325.8 181.1L328.8 183.0L331.9 184.7L339.7 170.3ZM321.7 188.7L324.8 190.7L327.8 192.4L329.8 188.5L326.8 186.8L323.8 184.8ZM428.5 130.7L434.0 133.4L435.4 130.7L429.9 127.7ZM439.5 136.1L436.8 141.8L442.4 144.6L445.0 138.9ZM335.8 151.0L331.9 157.2L337.7 160.5L341.6 154.0Z"/>
<path fill="#7cbde5" stroke="#7cbde5" stroke-width=".35" d="M327.3 99.9L325.4 100.8L328.1 102.6L330.7 103.8L332.5 102.4L329.9 101.4ZM322.8 115.4L328.4 118.5L330.3 116.6L324.8 114.0ZM330.2 125.7L333.0 127.3L335.8 128.7L337.6 126.3L334.9 124.9L332.1 123.5ZM330.1 136.3L332.9 137.9L335.8 139.4L337.7 136.6L334.8 135.3L332.0 133.8ZM330.0 147.7L335.8 151.0L337.7 148.0L331.9 144.9ZM329.9 160.3L335.8 163.8L337.7 160.5L331.9 157.2ZM323.8 184.8L326.8 186.8L329.8 188.5L331.9 184.7L328.8 183.0L325.8 181.1Z"/>
<path fill="#7dbfe7" stroke="#7dbfe7" stroke-width=".35" d="M321.2 109.8L319.3 110.8L322.0 112.5L324.8 114.0L326.7 112.5L324.0 111.3ZM326.5 120.3L332.1 123.5L333.9 121.3L328.4 118.5ZM328.2 127.9L331.1 129.7L333.9 131.2L335.8 128.7L333.0 127.3L330.2 125.7ZM328.1 138.8L331.0 140.6L333.9 142.2L335.8 139.4L332.9 137.9L330.1 136.3ZM328.0 150.6L330.9 152.4L333.8 154.1L335.8 151.0L330.0 147.7ZM329.9 160.3L325.9 166.7L328.9 168.7L331.9 170.5L335.8 163.8Z"/>
<path fill="#7ec0e9" stroke="#7ec0e9" stroke-width=".35" d="M325.4 100.8L323.5 101.8L326.2 103.7L328.9 105.1L330.7 103.8L328.1 102.6ZM320.9 116.7L326.5 120.3L328.4 118.5L322.8 115.4ZM326.3 130.1L329.1 132.0L332.0 133.8L333.9 131.2L331.1 129.7L328.2 127.9ZM328.1 138.8L326.1 141.3L329.0 143.2L331.9 144.9L333.9 142.2L331.0 140.6ZM326.0 153.4L328.9 155.4L331.9 157.2L333.8 154.1L330.9 152.4L328.0 150.6ZM323.9 169.9L326.9 172.0L329.9 174.0L331.9 170.5L328.9 168.7L325.9 166.7Z"/>
<path fill="#7fc2eb" stroke="#7fc2eb" stroke-width=".35" d="M323.5 101.8L321.6 102.8L324.3 104.9L327.0 106.3L328.9 105.1L326.2 103.7ZM317.3 111.7L320.1 113.7L322.8 115.4L324.8 114.0L322.0 112.5L319.3 110.8ZM324.5 122.1L330.2 125.7L332.1 123.5L326.5 120.3ZM324.1 143.9L327.1 145.9L330.0 147.7L331.9 144.9L329.0 143.2L326.1 141.3ZM324.0 156.3L327.0 158.4L329.9 160.3L331.9 157.2L328.9 155.4L326.0 153.4ZM323.9 169.9L319.7 176.6L322.8 179.0L325.8 181.1L329.9 174.0L326.9 172.0Z"/>
<path fill="#80c4ee" stroke="#80c4ee" stroke-width=".35" d="M319.7 103.7L322.4 105.9L325.1 107.5L327.0 106.3L324.3 104.9L321.6 102.8ZM315.2 112.6L318.0 114.8L320.9 116.7L322.8 115.4L320.1 113.7L317.3 111.7ZM318.9 118.1L324.5 122.1L326.5 120.3L320.9 116.7ZM322.9 164.5L325.9 166.7L329.9 160.3L327.0 158.4L324.0 156.3L319.9 162.1ZM321.7 188.7L325.8 181.1L322.8 179.0L319.7 176.6L315.5 183.5L318.7 186.3ZM325.4 126.0L328.2 127.9L330.2 125.7L324.5 122.1L322.5 123.9ZM326.3 130.1L322.3 134.6L325.2 136.8L328.1 138.8L332.0 133.8L329.1 132.0ZM325.1 148.6L328.0 150.6L330.0 147.7L327.1 145.9L324.1 143.9L322.1 146.4Z"/>
<path fill="#81c5f0" stroke="#81c5f0" stroke-width=".35" d="M319.7 103.7L315.7 105.5L318.5 107.9L321.2 109.8L325.1 107.5L322.4 105.9ZM316.8 119.5L322.5 123.9L324.5 122.1L318.9 118.1ZM320.5 125.7L323.4 128.0L326.3 130.1L328.2 127.9L325.4 126.0L322.5 123.9ZM320.3 136.8L323.2 139.2L326.1 141.3L328.1 138.8L325.2 136.8L322.3 134.6ZM320.1 148.9L323.1 151.3L326.0 153.4L328.0 150.6L325.1 148.6L322.1 146.4ZM317.8 165.0L320.9 167.6L323.9 169.9L325.9 166.7L322.9 164.5L319.9 162.1Z"/>
<path fill="#82c7f2" stroke="#82c7f2" stroke-width=".35" d="M315.7 105.5L313.7 106.2L316.5 108.7L319.3 110.8L321.2 109.8L318.5 107.9ZM313.2 113.5L316.0 115.9L318.9 118.1L320.9 116.7L318.0 114.8L315.2 112.6ZM318.5 127.6L321.4 130.0L324.3 132.3L326.3 130.1L323.4 128.0L320.5 125.7ZM318.3 139.0L321.2 141.6L324.1 143.9L326.1 141.3L323.2 139.2L320.3 136.8ZM320.1 148.9L315.9 154.1L319.0 156.7L322.0 159.2L326.0 153.4L323.1 151.3ZM315.7 167.9L318.8 170.7L321.8 173.2L323.9 169.9L320.9 167.6L317.8 165.0Z"/>
<path fill="#84c9f4" stroke="#84c9f4" stroke-width=".35" d="M265.3 81.8L269.3 91.2L273.5 103.4L275.2 107.0L276.9 109.9L268.5 85.6ZM275.9 102.6L279.9 114.2L281.4 115.7L282.8 116.9L278.9 106.2L274.7 93.0L271.7 89.4ZM314.4 109.5L317.3 111.7L319.3 110.8L316.5 108.7L313.7 106.2L311.6 106.7ZM311.1 114.3L314.0 117.0L316.8 119.5L318.9 118.1L316.0 115.9L313.2 113.5ZM314.8 162.2L317.8 165.0L322.0 159.2L319.0 156.7L315.9 154.1L311.7 159.1ZM317.7 180.0L321.8 173.2L318.8 170.7L315.7 167.9L311.4 173.7L314.6 177.0ZM314.8 120.8L320.5 125.7L322.5 123.9L316.8 119.5ZM318.5 127.6L314.4 131.3L317.4 134.2L320.3 136.8L324.3 132.3L321.4 130.0ZM318.3 139.0L314.1 143.5L317.1 146.4L320.1 148.9L324.1 143.9L321.2 141.6Z"/>
<path fill="#85cbf6" stroke="#85cbf6" stroke-width=".35" d="M268.5 85.6L276.9 109.9L275.2 107.0L273.5 103.4L277.7 116.3L281.8 128.2L283.3 129.8L284.7 131.1L286.1 132.0L287.4 132.7L288.7 133.1L290.0 133.3L286.5 125.8L282.8 116.9L281.4 115.7L279.9 114.2L275.9 102.6L271.7 89.4ZM278.9 106.2L282.8 116.9L284.2 117.9L285.5 118.6L286.8 119.0L288.1 119.4L289.4 119.6L290.6 119.6L293.1 119.5L289.6 112.3L286.0 103.0L283.3 101.3L280.6 99.0L277.7 96.2L274.7 93.0ZM313.2 113.5L317.3 111.7L314.4 109.5L311.6 106.7L309.5 107.0L307.3 107.2L310.3 110.6ZM313.8 156.6L320.1 148.9L317.1 146.4L314.1 143.5L307.7 150.1L310.8 153.5ZM310.5 167.5L313.6 170.8L317.8 165.0L314.8 162.2L311.7 159.1L309.5 161.6L307.3 163.9ZM311.9 118.1L314.8 120.8L316.8 119.5L314.0 117.0L311.1 114.3L308.9 115.1ZM310.6 123.6L313.5 126.6L316.5 129.4L320.5 125.7L314.8 120.8ZM314.4 131.3L310.2 135.1L313.2 138.3L316.2 141.3L320.3 136.8L317.4 134.2ZM315.5 183.5L317.7 180.0L314.6 177.0L311.4 173.7L309.2 176.5L312.4 180.2Z"/>
<path fill="#86ccf8" stroke="#86ccf8" stroke-width=".35" d="M291.9 119.6L289.4 119.6L288.1 119.4L286.8 119.0L285.5 118.6L284.2 117.9L282.8 116.9L286.5 125.8L290.0 133.3L288.7 133.1L287.4 132.7L286.1 132.0L284.7 131.1L283.3 129.8L281.8 128.2L285.7 138.3L289.3 146.3L292.8 152.9L296.2 158.4L299.5 163.4L302.8 168.0L306.0 172.4L309.2 176.5L313.6 170.8L310.5 167.5L307.3 163.9L310.6 160.4L313.8 156.6L310.8 153.5L307.7 150.1L312.0 145.7L316.2 141.3L313.2 138.3L310.2 135.1L316.5 129.4L313.5 126.6L310.6 123.6L314.8 120.8L311.9 118.1L308.9 115.1L313.2 113.5L310.3 110.6L307.3 107.2L305.1 107.2L301.8 107.0L298.3 106.6L294.8 106.1L292.4 105.6L289.9 104.8L287.3 103.7L286.0 103.0L289.6 112.3L293.1 119.5Z"/>
<path fill="none" stroke="#000" stroke-width="0.5" d="M446.3 136.2L416.7 200.2L411.9 210.3L407.8 218.4M443.6 134.8L437.5 147.5L413.7 199.1L408.8 209.3L404.6 217.7M440.8 133.5L434.7 146.1L411.5 196.2L401.5 216.8M438.1 132.1L431.9 144.9L409.2 193.4L398.4 215.7M435.4 130.7L429.8 142.1L407.0 190.6L400.4 204.3L395.3 214.5M432.6 129.2L404.8 187.9L397.3 203.2L392.1 213.2M429.9 127.7L412.2 165.2L402.7 185.2L395.1 200.4L389.0 211.9M427.2 126.2L412.4 157.7L400.5 182.5L392.1 199.3L388.6 205.9L385.9 210.5M424.4 124.7L412.6 150.2L398.3 179.8L389.0 198.3L385.5 204.7L382.8 209.2M421.7 123.1L417.3 133.0L411.3 145.9L396.2 177.2L390.3 188.9L386.0 197.2L382.4 203.5L379.7 207.9M419.0 121.7L414.5 131.8L409.2 143.2L401.4 159.5L393.2 176.2L387.3 187.9L382.9 196.1L379.4 202.3L376.6 206.6M416.2 120.3L412.5 129.0L407.2 140.5L398.5 158.5L390.3 175.2L384.3 186.9L379.9 195.1L376.3 201.2L373.6 205.3M413.5 119.0L409.7 127.8L404.3 139.4L396.4 155.9L387.3 174.2L381.3 185.9L376.9 194.1L373.2 200.1L370.5 204.1M410.7 117.8L406.9 126.7L401.5 138.4L393.6 154.8L384.4 173.2L378.3 184.9L373.8 193.1L370.2 199.1L367.4 203.0M408.0 116.7L404.2 125.6L398.7 137.3L390.7 153.8L381.4 172.2L375.3 183.9L370.8 192.1L367.1 198.1L364.3 202.0M405.2 115.7L401.4 124.6L395.9 136.3L387.8 152.7L378.5 171.1L372.3 182.9L367.8 191.1L364.1 197.2L361.2 201.1M402.5 114.9L398.6 123.6L393.1 135.2L384.9 151.7L375.6 170.1L369.3 181.9L364.8 190.2L361.0 196.3L358.2 200.5M399.7 114.1L395.8 122.7L390.3 134.2L382.1 150.6L372.6 169.0L366.4 180.9L361.8 189.3L358.0 195.6L355.1 199.9M397.0 113.4L393.1 121.8L387.5 133.2L379.2 149.5L369.7 168.0L363.4 179.9L358.8 188.3L355.0 194.8L352.0 199.4M394.2 112.8L389.5 122.6L383.9 133.8L366.8 166.9L355.8 187.4L351.9 194.1L349.0 198.9M391.5 112.3L380.2 134.4L363.0 167.4L352.8 186.4L346.0 198.3M388.7 111.7L359.1 168.0L349.8 185.4L342.9 197.7M386.0 111.2L352.5 173.8L339.9 196.9M383.3 110.7L368.4 137.6L336.9 196.1M380.6 110.2L373.2 122.9L362.1 142.9L342.8 178.4L333.9 195.0M377.8 109.8L370.5 122.1L357.5 144.9L339.8 177.0L330.8 193.8M375.1 109.3L367.7 121.3L354.7 143.8L336.8 175.5L327.8 192.4M372.4 108.9L369.1 113.8L365.0 120.5L351.8 142.6L333.8 174.0L328.8 183.0L324.8 190.7M369.7 108.5L366.4 113.2L362.2 119.7L349.9 139.9L330.9 172.2L325.8 181.1L321.7 188.7M367.0 108.1L363.7 112.7L360.3 117.7L349.8 134.4L328.9 168.7L323.8 177.2L318.7 186.3M364.3 107.7L361.8 111.0L358.5 115.7L350.6 127.7L325.9 166.7L315.5 183.5M361.7 107.3L357.4 112.7L352.3 120.1L312.4 180.2M359.0 106.9L355.6 111.1L351.3 116.9L332.9 143.6L322.0 159.2L314.7 169.4L309.2 176.5M356.3 106.6L352.9 110.5L349.4 115.0L330.0 141.9L316.9 159.5L310.5 167.5L306.0 172.4M353.7 106.2L350.2 110.0L346.7 114.3L328.1 138.8L314.9 155.3L311.7 159.1L308.4 162.8L305.1 166.1L302.8 168.0M351.0 105.8L348.4 108.5L344.9 112.5L326.2 135.6L319.2 144.0L312.9 151.2L308.6 155.8L305.3 159.1L301.9 161.9L299.5 163.4M348.3 105.4L345.7 108.0L343.1 110.8L323.3 133.4L316.2 141.3L309.9 148.0L305.5 152.2L302.1 155.1L298.6 157.4L296.2 158.4M345.7 105.0L340.4 110.1L328.3 122.9L318.4 133.1L312.2 139.3L306.8 144.4L302.3 148.3L298.9 150.6L296.5 151.9L295.3 152.3L292.8 152.9M343.1 104.6L338.6 108.6L328.4 118.5L319.5 126.7L310.2 135.1L303.6 140.6L299.1 143.8L296.8 145.1L295.6 145.6L293.1 146.3L291.9 146.5L290.6 146.5L289.3 146.3M340.4 104.2L327.5 115.3L320.7 120.9L307.2 131.6L302.7 134.8L299.3 137.0L295.8 138.8L293.4 139.6L292.2 139.9L291.0 139.9L289.7 139.8L288.4 139.6L287.0 139.1L285.7 138.3M337.8 103.7L327.7 111.8L319.9 117.4L304.1 127.8L299.6 130.4L296.1 132.1L293.7 132.9L292.5 133.2L290.0 133.3L288.7 133.1L287.4 132.7L286.1 132.0L284.7 131.1L283.3 129.8L281.8 128.2M335.2 103.2L330.6 106.7L326.9 109.4L323.0 111.9L318.0 114.8L307.6 120.3L302.1 123.1L297.5 125.0L294.0 126.1L291.6 126.6L289.1 126.5L287.8 126.3L286.5 125.8L285.1 125.1L283.8 124.1L282.3 122.8L280.9 121.1L279.3 119.0L277.7 116.3M332.5 102.4L327.9 105.7L324.2 108.1L320.3 110.3L315.2 112.6L308.9 115.1L300.1 118.1L295.5 119.2L291.9 119.6L289.4 119.6L286.8 119.0L285.5 118.6L284.2 117.9L282.8 116.9L281.4 115.7L279.9 114.2L278.4 112.2L276.9 109.9L275.2 107.0L273.5 103.4M329.9 101.4L325.3 104.3L320.5 107.0L316.5 108.7L312.4 110.1L307.0 111.3L299.2 112.4L294.5 112.7L290.9 112.5L288.4 112.0L287.1 111.6L284.5 110.4L281.7 108.7L278.9 106.2L275.9 102.6L274.3 100.4L272.7 97.8L271.0 94.7L269.3 91.2M327.3 99.9L316.7 105.1L313.7 106.2L310.5 106.9L306.2 107.2L301.8 107.0L296.0 106.3L293.6 105.9L291.1 105.2L288.6 104.3L286.0 103.0L283.3 101.3L280.6 99.0L277.7 96.2L274.7 93.0L265.3 81.8"/>
<path fill="none" stroke="#000" stroke-width="0.5" d="M446.3 136.2L435.4 130.7L421.7 123.1L416.2 120.3L410.7 117.8L408.0 116.7L402.5 114.9L394.2 112.8L380.6 110.2L369.7 108.5L348.3 105.4L337.8 103.7L335.2 103.2L332.5 102.4L329.9 101.4L327.3 99.9M445.7 137.5L434.7 132.0L421.0 124.8L415.5 122.1L410.0 119.6L407.2 118.5L401.7 116.7L393.4 114.5L379.8 111.6L366.2 109.2L339.5 104.9L334.3 103.9L331.6 103.1L329.0 102.0L326.3 100.4M445.0 138.9L420.2 126.5L414.7 123.8L406.5 120.4L400.9 118.4L395.4 116.8L389.9 115.4L376.2 112.4L365.4 110.3L336.0 105.2L333.4 104.6L330.7 103.8L328.1 102.6L325.4 100.8M444.4 140.3L436.1 136.2L416.7 126.8L408.4 123.2L400.2 120.2L394.6 118.5L389.1 117.0L375.4 113.7L364.5 111.5L335.1 105.9L332.5 105.3L329.8 104.4L327.1 103.2L324.5 101.3M443.7 141.7L435.4 137.6L416.0 128.5L407.7 125.0L399.4 121.9L388.3 118.6L374.6 115.1L366.4 113.2L347.5 109.4L334.2 106.7L331.5 106.0L328.9 105.1L326.2 103.7L323.5 101.8M443.0 143.2L434.7 139.0L418.0 131.4L406.9 126.7L398.6 123.6L387.5 120.1L373.8 116.4L362.9 113.9L346.7 110.4L333.3 107.4L330.6 106.7L327.9 105.7L325.3 104.3L322.6 102.3M442.4 144.6L434.0 140.4L420.1 134.2L408.9 129.5L397.8 125.3L386.7 121.7L373.0 117.8L364.8 115.8L345.8 111.4L332.4 108.1L329.7 107.4L327.0 106.3L324.3 104.9L321.6 102.8M441.7 146.0L433.3 141.9L422.1 137.0L408.2 131.2L397.0 127.0L385.9 123.3L372.1 119.2L363.9 117.1L344.9 112.5L331.4 108.9L328.7 108.0L326.1 106.9L323.4 105.4L320.6 103.2M441.0 147.5L432.6 143.4L424.2 139.7L407.4 132.9L396.3 128.7L385.1 124.9L374.1 121.4L363.1 118.4L346.7 114.3L330.5 109.6L327.8 108.7L325.1 107.5L322.4 105.9L319.7 103.7M440.3 149.0L434.7 146.1L426.3 142.4L412.3 136.7L398.3 131.3L387.1 127.4L373.2 122.9L362.2 119.7L345.8 115.4L329.6 110.3L326.9 109.4L324.2 108.1L321.4 106.5L318.7 104.2M439.7 150.4L436.9 149.0L431.2 146.4L422.8 142.8L403.1 135.1L389.1 130.0L378.0 126.2L369.6 123.5L361.4 121.1L347.7 117.4L342.2 115.7L328.6 111.1L325.9 110.0L323.2 108.7L320.5 107.0L317.7 104.7M439.0 151.9L433.3 149.1L424.9 145.5L405.1 137.8L391.1 132.6L379.9 128.6L368.8 125.0L360.5 122.5L344.0 117.8L338.6 115.9L330.4 112.9L324.9 110.6L322.2 109.2L319.5 107.4L316.7 105.1M438.3 153.4L432.6 150.7L424.1 147.1L404.3 139.4L387.5 133.2L376.3 129.3L368.0 126.5L359.6 123.9L345.9 119.8L337.7 117.0L329.5 113.7L324.0 111.3L321.2 109.8L318.5 107.9L315.7 105.5M437.6 154.9L431.9 152.2L423.4 148.6L386.7 134.8L367.1 128.0L358.8 125.3L345.0 121.1L336.7 118.1L328.5 114.5L323.0 111.9L320.3 110.3L317.5 108.3L314.7 105.9M436.9 156.5L431.2 153.7L422.7 150.2L385.9 136.4L366.3 129.4L357.9 126.7L344.1 122.3L338.6 120.3L330.3 116.6L322.0 112.5L319.3 110.8L316.5 108.7L313.7 106.2M436.2 158.0L433.3 156.6L427.6 154.0L413.4 148.6L371.0 132.9L359.8 129.0L343.2 123.6L337.6 121.5L329.4 117.5L321.0 113.1L318.3 111.3L315.5 109.1L312.6 106.5M435.5 159.5L432.6 158.1L426.9 155.6L418.3 152.3L367.3 133.5L356.2 129.5L345.0 125.9L339.5 123.8L336.7 122.6L331.2 119.9L325.6 116.9L320.1 113.7L317.3 111.7L314.4 109.5L311.6 106.7M434.8 161.1L429.1 158.4L420.4 154.9L394.7 145.5L366.5 135.0L355.3 131.0L344.1 127.2L338.6 125.0L335.8 123.8L330.2 120.9L324.6 117.7L319.1 114.2L316.2 112.2L313.4 109.8L310.5 106.9M434.1 162.6L428.3 160.0L419.7 156.5L393.9 147.2L360.0 134.5L343.2 128.5L337.6 126.3L334.9 124.9L329.3 121.9L320.9 116.7L318.0 114.8L315.2 112.6L312.4 110.1L309.5 107.0M433.4 164.2L427.6 161.5L421.8 159.2L387.4 146.7L359.1 136.0L342.3 129.8L336.7 127.5L333.9 126.1L328.3 122.9L319.9 117.4L317.0 115.4L314.2 113.1L311.3 110.4L308.4 107.1M432.6 165.7L426.9 163.1L421.1 160.8L395.2 151.5L383.8 147.3L344.2 132.3L338.6 130.0L335.8 128.7L333.0 127.3L327.3 123.9L318.9 118.1L316.0 115.9L313.2 113.5L310.3 110.6L307.3 107.2M431.9 167.3L426.1 164.7L420.3 162.4L391.5 152.1L374.4 145.7L343.3 133.7L337.6 131.3L334.8 130.0L332.0 128.5L326.4 125.0L317.8 118.8L315.0 116.5L312.1 113.9L309.2 110.8L306.2 107.2M431.2 168.9L425.4 166.3L419.6 164.0L393.6 154.8L376.4 148.4L342.3 135.1L336.7 132.6L333.9 131.2L328.2 127.9L322.5 123.9L316.8 119.5L314.0 117.0L311.1 114.3L308.1 111.1L305.1 107.2M430.5 170.5L424.6 167.9L418.8 165.7L392.7 156.5L375.5 150.1L344.2 137.6L335.8 134.0L332.9 132.5L330.1 130.8L327.3 129.0L321.6 124.8L315.8 120.2L312.9 117.6L310.0 114.7L307.0 111.3L304.0 107.1M429.7 172.1L423.9 169.5L418.1 167.3L389.0 157.1L371.8 150.6L360.4 146.1L343.3 139.1L337.7 136.6L334.8 135.3L332.0 133.8L329.1 132.0L326.3 130.1L320.5 125.7L314.8 120.8L311.9 118.1L308.9 115.1L306.0 111.4L302.9 107.1M429.0 173.7L423.2 171.1L417.3 168.9L388.2 158.8L370.9 152.3L359.5 147.7L345.2 141.8L339.6 139.3L333.9 136.6L331.0 135.0L328.2 133.2L325.3 131.2L319.5 126.7L313.7 121.5L310.8 118.7L307.9 115.4L304.9 111.6L301.8 107.0M428.3 175.3L422.4 172.8L416.5 170.6L387.4 160.4L370.1 153.9L358.6 149.3L347.2 144.5L338.6 140.8L332.9 137.9L330.1 136.3L327.2 134.4L324.3 132.3L318.5 127.6L312.7 122.2L309.7 119.2L306.8 115.8L303.7 111.8L300.6 106.9M427.5 176.9L418.7 173.3L386.5 162.1L375.0 157.8L366.3 154.5L357.7 151.0L346.2 146.1L337.7 142.2L331.9 139.2L329.1 137.5L326.2 135.6L323.3 133.4L317.5 128.5L311.6 122.9L308.7 119.8L305.7 116.2L302.6 112.0L299.5 106.8M426.8 178.5L417.9 174.9L385.7 163.8L374.1 159.5L365.4 156.2L353.9 151.4L345.3 147.6L336.7 143.6L331.0 140.6L328.1 138.8L325.2 136.8L322.3 134.6L316.5 129.4L310.6 123.6L307.6 120.3L304.6 116.6L301.5 112.1L298.3 106.6M426.0 180.2L420.1 177.7L414.2 175.5L384.8 165.5L367.4 159.0L355.9 154.3L347.3 150.5L338.6 146.5L332.9 143.6L327.1 140.1L324.2 138.0L321.3 135.7L318.4 133.1L312.5 127.4L309.5 124.3L306.5 120.9L303.5 117.0L300.4 112.3L297.2 106.5M425.3 181.8L416.4 178.2L384.0 167.1L372.4 162.9L363.7 159.5L355.0 155.9L346.3 152.1L337.7 148.0L331.9 144.9L326.1 141.3L323.2 139.2L320.3 136.8L317.4 134.2L311.4 128.3L308.4 125.0L305.4 121.5L302.4 117.3L299.2 112.4L296.0 106.3M424.5 183.5L415.6 179.9L383.1 168.8L371.5 164.6L362.8 161.2L354.1 157.6L345.4 153.7L336.7 149.5L330.9 146.3L325.1 142.6L322.2 140.4L319.3 137.9L316.3 135.2L310.4 129.1L307.4 125.7L304.3 122.0L301.2 117.7L298.1 112.5L294.8 106.1M423.7 185.1L414.8 181.6L379.4 169.5L370.6 166.3L361.9 162.9L353.1 159.3L344.5 155.4L335.8 151.0L330.0 147.7L324.1 143.9L321.2 141.6L318.3 139.0L315.3 136.2L309.3 129.9L306.3 126.4L303.2 122.6L300.1 118.1L296.9 112.6L293.6 105.9M423.0 186.8L414.0 183.2L378.5 171.1L369.7 168.0L361.0 164.6L352.2 161.0L343.5 157.0L334.8 152.5L329.0 149.2L323.1 145.1L320.2 142.8L317.2 140.1L314.3 137.3L308.2 130.8L305.2 127.1L302.1 123.1L299.0 118.4L295.7 112.7L292.4 105.6M422.2 188.4L416.2 186.0L410.3 183.9L386.5 175.9L374.7 171.8L365.9 168.6L357.1 165.1L348.4 161.4L342.6 158.7L333.8 154.1L328.0 150.6L322.1 146.4L319.2 144.0L316.2 141.3L313.2 138.3L310.2 135.1L304.1 127.8L301.0 123.6L297.8 118.7L294.5 112.7L291.1 105.2M421.4 190.1L415.5 187.7L409.5 185.5L373.8 173.5L365.0 170.3L356.2 166.8L347.4 163.1L341.6 160.3L332.9 155.6L327.0 152.0L321.1 147.7L318.1 145.2L315.2 142.4L312.2 139.3L309.1 136.0L306.1 132.4L303.0 128.5L299.8 124.1L296.6 119.0L293.3 112.7L289.9 104.8M420.7 191.8L414.7 189.4L408.7 187.2L375.9 176.2L367.0 173.1L358.2 169.7L349.4 166.1L343.6 163.4L334.8 158.9L328.9 155.4L323.1 151.3L320.1 148.9L317.1 146.4L314.1 143.5L311.1 140.4L308.0 136.9L305.0 133.2L301.9 129.2L298.7 124.6L295.5 119.2L292.1 112.6L288.6 104.3M419.9 193.5L413.9 191.1L407.8 188.9L369.1 175.8L360.2 172.6L354.4 170.3L345.6 166.5L339.7 163.7L333.8 160.5L328.0 156.9L322.0 152.6L319.1 150.2L316.1 147.6L313.1 144.6L310.0 141.4L307.0 137.9L303.9 134.0L300.7 129.8L297.5 125.0L294.3 119.4L290.9 112.5L287.3 103.7M419.1 195.2L413.1 192.8L407.0 190.6L368.2 177.5L359.3 174.3L353.4 172.0L344.6 168.2L338.7 165.4L332.9 162.1L327.0 158.4L321.0 154.0L318.0 151.5L315.0 148.8L312.0 145.7L308.9 142.4L305.9 138.8L302.7 134.8L299.6 130.4L296.4 125.4L293.1 119.5L289.6 112.3L286.0 103.0M418.3 196.9L412.3 194.5L406.2 192.3L367.3 179.2L358.4 176.0L352.5 173.8L343.7 170.0L337.8 167.1L331.9 163.7L325.9 159.9L320.0 155.4L317.0 152.8L314.0 150.0L310.9 146.8L307.9 143.4L304.8 139.7L301.6 135.6L298.4 131.0L295.2 125.8L291.9 119.6L288.4 112.0L284.7 102.2M417.5 198.5L405.4 194.0L366.4 180.9L357.5 177.8L351.6 175.5L342.7 171.7L336.8 168.8L330.9 165.4L324.9 161.4L319.0 156.7L315.9 154.1L312.9 151.2L309.9 148.0L306.8 144.4L303.6 140.6L300.5 136.3L297.3 131.6L294.0 126.1L290.6 119.6L287.1 111.6L283.3 101.3M416.7 200.2L404.6 195.7L362.5 181.6L350.6 177.3L341.7 173.5L335.8 170.5L329.9 167.0L323.9 162.9L317.9 158.1L314.9 155.3L311.8 152.3L308.8 149.1L305.7 145.4L302.5 141.4L299.3 137.0L296.1 132.1L292.8 126.4L289.4 119.6L285.8 111.1L282.0 100.2M415.9 201.9L406.8 198.5L397.7 195.3L358.6 182.3L352.6 180.2L346.7 177.8L340.8 175.2L334.8 172.2L328.9 168.7L322.9 164.5L316.9 159.5L313.8 156.6L310.8 153.5L307.7 150.1L304.6 146.4L301.4 142.3L298.2 137.7L294.9 132.5L291.6 126.6L288.1 119.4L284.5 110.4L280.6 99.0M415.1 203.6L406.0 200.3L390.7 195.0L354.7 183.0L345.7 179.6L339.8 177.0L333.8 174.0L327.9 170.3L321.9 166.0L315.8 160.8L312.8 157.9L309.7 154.7L306.6 151.2L303.4 147.3L300.3 143.1L297.0 138.3L293.7 132.9L290.3 126.6L286.8 119.0L283.1 109.6L279.1 97.7M414.3 205.3L402.1 200.9L386.8 195.6L374.7 191.5L353.7 184.7L344.8 181.4L338.8 178.8L332.9 175.7L326.9 172.0L323.9 169.9L320.9 167.6L317.8 165.0L314.8 162.2L311.7 159.1L308.6 155.8L305.5 152.2L302.3 148.3L299.1 143.8L295.8 138.8L292.5 133.2L289.1 126.5L285.5 118.6L281.7 108.7L277.7 96.2M413.5 207.0L379.9 195.1L370.8 192.1L352.8 186.4L343.8 183.2L337.8 180.6L331.9 177.5L325.9 173.7L322.8 171.5L319.8 169.1L316.8 166.4L313.7 163.5L307.5 157.0L304.4 153.2L301.2 149.1L297.9 144.5L294.7 139.3L291.3 133.3L287.8 126.3L284.2 117.9L280.3 107.5L276.2 94.6M412.7 208.7L376.0 195.6L366.9 192.7L351.8 188.1L342.8 185.0L336.8 182.4L330.9 179.3L327.9 177.5L324.8 175.5L321.8 173.2L318.8 170.7L315.7 167.9L312.6 164.9L309.5 161.6L306.4 158.0L303.2 154.2L300.0 149.9L296.8 145.1L293.4 139.6L290.0 133.3L286.5 125.8L282.8 116.9L278.9 106.2L274.7 93.0M411.9 210.3L402.6 207.1L375.1 197.2L365.9 194.2L347.8 188.9L341.8 186.8L338.9 185.6L332.9 182.8L329.9 181.1L326.8 179.3L323.8 177.2L320.8 174.9L317.7 172.3L314.7 169.4L311.6 166.2L308.4 162.8L305.3 159.1L302.1 155.1L298.9 150.6L295.6 145.6L292.2 139.9L288.7 133.1L285.1 125.1L281.4 115.7L277.4 104.5L273.2 91.2M411.1 212.0L401.8 208.9L380.3 200.8L371.1 197.6L365.0 195.7L349.9 191.6L343.9 189.7L340.9 188.6L334.9 186.1L331.9 184.7L328.8 183.0L325.8 181.1L322.8 179.0L319.7 176.6L316.7 173.8L313.6 170.8L310.5 167.5L304.1 160.1L300.9 155.9L297.7 151.3L294.4 146.0L291.0 139.9L287.4 132.7L283.8 124.1L279.9 114.2L275.9 102.6L271.7 89.4M410.3 213.6L407.2 212.7L400.9 210.6L379.4 202.3L370.2 199.1L364.1 197.2L345.9 192.4L339.9 190.5L336.9 189.3L330.9 186.6L327.8 184.9L324.8 183.0L321.8 180.8L318.7 178.3L315.6 175.4L312.5 172.2L306.2 165.0L303.0 161.0L299.8 156.7L296.5 151.9L293.1 146.3L289.7 139.8L286.1 132.0L282.3 122.8L278.4 112.2L274.3 100.4L270.1 87.5M409.5 215.2L406.3 214.4L400.1 212.3L378.5 203.8L369.2 200.4L366.2 199.4L360.1 197.8L344.9 194.2L338.9 192.3L335.9 191.2L332.9 189.9L329.8 188.5L326.8 186.8L323.8 184.8L320.7 182.6L317.7 180.0L314.6 177.0L311.4 173.7L308.3 170.0L301.9 161.9L298.6 157.4L295.3 152.3L291.9 146.5L288.4 139.6L284.7 131.1L280.9 121.1L276.9 109.9L268.5 85.6M408.6 216.8L405.5 216.0L399.2 214.0L377.6 205.2L368.3 201.7L365.2 200.8L359.1 199.2L343.9 195.9L337.9 194.2L334.9 193.1L331.9 191.9L328.8 190.4L325.8 188.7L322.8 186.8L319.7 184.4L316.6 181.7L313.5 178.6L310.3 175.1L307.2 171.2L300.7 162.7L297.4 158.0L294.1 152.7L290.6 146.5L287.0 139.1L283.3 129.8L279.3 119.0L271.0 94.7L266.9 83.7M407.8 218.4L404.6 217.7L401.5 216.8L398.4 215.7L392.1 213.2L373.6 205.3L367.4 203.0L364.3 202.0L358.2 200.5L342.9 197.7L336.9 196.1L333.9 195.0L330.8 193.8L327.8 192.4L324.8 190.7L321.7 188.7L318.7 186.3L315.5 183.5L312.4 180.2L309.2 176.5L306.0 172.4L299.5 163.4L296.2 158.4L292.8 152.9L289.3 146.3L285.7 138.3L281.8 128.2L273.5 103.4L269.3 91.2L265.3 81.8"/>
<line x1="455.5" y1="30.0" x2="412.9" y2="116.5" class="dt"/>
<line x1="407.4" y1="226.4" x2="412.9" y2="116.5" class="dt"/>
<line x1="412.9" y1="116.5" x2="265.3" y2="82.3" class="dt"/>
<line x1="404.3" y1="225.6" x2="402.8" y2="231.5" class="tk"/>
<text x="401.4" y="238.3" class="tl" style="font-size:6.1px">22</text>
<line x1="373.4" y1="217.3" x2="372.0" y2="223.2" class="tk"/>
<text x="370.5" y="229.9" class="tl" style="font-size:6.1px">23</text>
<line x1="343.2" y1="209.1" x2="341.8" y2="215.0" class="tk"/>
<text x="340.3" y="221.6" class="tl" style="font-size:6.1px">24</text>
<line x1="313.6" y1="201.2" x2="312.2" y2="207.0" class="tk"/>
<text x="310.7" y="213.5" class="tl" style="font-size:6.1px">25</text>
<line x1="284.6" y1="193.4" x2="283.1" y2="199.1" class="tk"/>
<text x="281.7" y="205.6" class="tl" style="font-size:6.1px">26</text>
<line x1="446.3" y1="136.2" x2="449.8" y2="140.0" class="tk"/>
<text x="453.2" y="144.5" class="tl" style="font-size:6.1px">0</text>
<line x1="439.5" y1="152.0" x2="443.1" y2="155.8" class="tk"/>
<text x="446.6" y="160.3" class="tl" style="font-size:6.1px">10</text>
<line x1="432.4" y1="168.4" x2="436.1" y2="172.3" class="tk"/>
<text x="439.7" y="176.9" class="tl" style="font-size:6.1px">20</text>
<line x1="425.0" y1="185.6" x2="428.7" y2="189.5" class="tk"/>
<text x="432.5" y="194.2" class="tl" style="font-size:6.1px">30</text>
<line x1="417.2" y1="203.6" x2="421.1" y2="207.6" class="tk"/>
<text x="424.9" y="212.3" class="tl" style="font-size:6.1px">40</text>
<line x1="409.1" y1="222.5" x2="413.0" y2="226.5" class="tk"/>
<text x="417.0" y="231.3" class="tl" style="font-size:6.1px">50</text>
<line x1="274.9" y1="180.3" x2="269.4" y2="182.1" class="tk"/>
<text x="263.8" y="184.6" class="tl" style="font-size:6.1px">1.0</text>
<line x1="273.3" y1="163.9" x2="267.6" y2="165.6" class="tk"/>
<text x="261.9" y="168.2" class="tl" style="font-size:6.1px">1.5</text>
<line x1="271.7" y1="146.8" x2="265.9" y2="148.6" class="tk"/>
<text x="260.0" y="151.1" class="tl" style="font-size:6.1px">2.0</text>
<line x1="269.9" y1="129.1" x2="264.0" y2="130.9" class="tk"/>
<text x="258.1" y="133.4" class="tl" style="font-size:6.1px">2.5</text>
<line x1="268.1" y1="110.8" x2="262.1" y2="112.5" class="tk"/>
<text x="256.0" y="115.1" class="tl" style="font-size:6.1px">3.0</text>
<line x1="266.3" y1="91.7" x2="260.1" y2="93.4" class="tk"/>
<text x="253.9" y="96.0" class="tl" style="font-size:6.1px">3.5</text>
<text transform="translate(338.1 230.4) rotate(15.1)" class="tt" style="font-size:6.7px">Minimum Temperature</text>
<text transform="translate(441.6 191.2) rotate(-66.6)" class="tt" style="font-size:6.7px">Lag (weeks)</text>
<text transform="translate(250.2 145.0) rotate(84.4)" class="tt" style="font-size:6.7px">RR</text>
<line x1="675.3" y1="136.9" x2="684.4" y2="30.7" class="bx"/>
<line x1="675.3" y1="136.9" x2="636.4" y2="227.0" class="bx"/>
<line x1="675.3" y1="136.9" x2="556.6" y2="108.9" class="bx"/>
<line x1="684.4" y1="30.7" x2="552.6" y2="4.3" class="bx"/>
<line x1="636.4" y1="227.0" x2="505.0" y2="191.7" class="bx"/>
<line x1="556.6" y1="108.9" x2="552.6" y2="4.3" class="bx"/>
<line x1="556.6" y1="108.9" x2="505.0" y2="191.7" class="bx"/>
<line x1="552.6" y1="4.3" x2="494.3" y2="83.0" class="bx"/>
<line x1="505.0" y1="191.7" x2="494.3" y2="83.0" class="bx"/>
<path fill="#000" d="M516.2 97.3L520.4 100.3L524.7 103.1L529.6 106.3L542.2 114.4L546.4 117.1L549.9 119.5L554.8 122.9L559.7 126.4L564.6 130.0L568.8 133.2L573.0 136.5L577.2 139.9L581.4 143.3L585.6 146.9L589.0 149.9L593.2 153.6L606.9 166.2L613.1 171.7L615.8 174.1L618.5 176.4L620.5 178.0L622.6 179.5L624.6 180.9L626.7 182.1L628.7 183.2L630.8 184.1L632.2 184.5L632.9 184.7L634.2 185.0L634.9 185.1L636.3 185.2L637.0 185.2L638.5 185.2L645.6 165.5L654.2 142.7L656.7 135.7L658.4 130.8L660.1 125.5L663.5 114.6L669.3 96.3L672.7 85.8L677.6 69.8L682.5 53.4L681.8 54.0L681.0 55.3L680.2 57.2L679.3 59.8L678.1 63.8L677.7 64.9L676.2 69.6L675.2 72.6L674.3 75.7L673.6 77.5L672.3 81.8L671.2 84.8L670.0 88.4L668.9 91.7L668.4 92.4L667.7 93.3L669.2 90.2L668.5 90.9L667.8 91.3L667.2 91.6L666.5 91.7L665.9 91.6L665.3 91.5L664.7 91.2L664.1 90.9L662.9 90.1L661.1 88.8L652.7 81.9L648.5 78.6L646.7 77.3L644.9 76.0L643.1 74.8L641.3 73.7L639.5 72.7L637.7 71.8L635.8 71.0L634.0 70.4L632.2 69.9L630.3 69.5L628.5 69.2L626.0 68.9L624.2 68.9L622.3 68.9L620.5 69.1L618.7 69.3L616.8 69.6L615.0 70.0L613.2 70.5L610.7 71.3L608.3 72.1L605.3 73.3L600.3 75.5L599.4 76.0L596.4 77.2L592.2 79.0L589.4 80.2L583.4 82.9L578.7 85.1L577.0 86.0L575.1 86.9L573.5 87.6L567.1 90.3L564.1 91.4L562.6 91.9L561.1 92.4L558.8 93.0L554.6 94.0L551.9 94.5L550.1 94.7L548.8 94.9L547.3 95.0L545.5 95.2L540.9 95.2L538.2 95.2L534.1 94.8L531.2 94.4L528.7 94.0L523.6 92.9L518.4 91.5L516.1 90.7L515.1 90.4L509.9 88.4L504.4 86.1L500.1 84.5L497.2 83.4L494.3 82.4L496.4 83.7L498.5 85.0L502.7 87.7L507.0 90.7Z"/>
<line x1="684.4" y1="30.7" x2="641.9" y2="117.1" class="dt"/>
<line x1="636.4" y1="227.0" x2="641.9" y2="117.1" class="dt"/>
<line x1="641.9" y1="117.1" x2="494.3" y2="83.0" class="dt"/>
<line x1="636.4" y1="227.0" x2="634.9" y2="233.0" class="tk"/>
<text x="633.4" y="239.0" class="tl">0</text>
<line x1="603.5" y1="218.2" x2="602.1" y2="224.1" class="tk"/>
<text x="600.6" y="230.0" class="tl">100</text>
<line x1="571.4" y1="209.6" x2="570.0" y2="215.4" class="tk"/>
<text x="568.5" y="221.3" class="tl">200</text>
<line x1="540.0" y1="201.1" x2="538.5" y2="206.9" class="tk"/>
<text x="537.1" y="212.7" class="tl">300</text>
<line x1="509.2" y1="192.9" x2="507.8" y2="198.6" class="tk"/>
<text x="506.3" y="204.3" class="tl">400</text>
<line x1="675.3" y1="136.9" x2="678.8" y2="140.6" class="tk"/>
<text x="682.2" y="144.3" class="tl">0</text>
<line x1="668.5" y1="152.6" x2="672.1" y2="156.4" class="tk"/>
<text x="675.6" y="160.2" class="tl">10</text>
<line x1="661.4" y1="169.1" x2="665.1" y2="172.9" class="tk"/>
<text x="668.7" y="176.7" class="tl">20</text>
<line x1="654.0" y1="186.3" x2="657.7" y2="190.2" class="tk"/>
<text x="661.4" y="194.0" class="tl">30</text>
<line x1="646.2" y1="204.3" x2="650.0" y2="208.2" class="tk"/>
<text x="653.9" y="212.2" class="tl">40</text>
<line x1="638.1" y1="223.2" x2="642.0" y2="227.2" class="tk"/>
<text x="645.9" y="231.2" class="tl">50</text>
<line x1="503.0" y1="171.1" x2="497.3" y2="172.9" class="tk"/>
<text x="491.6" y="174.7" class="tl">0.95</text>
<line x1="500.9" y1="149.9" x2="495.1" y2="151.6" class="tk"/>
<text x="489.3" y="153.4" class="tl">1.00</text>
<line x1="498.7" y1="127.6" x2="492.8" y2="129.3" class="tk"/>
<text x="486.8" y="131.1" class="tl">1.05</text>
<line x1="496.4" y1="104.2" x2="490.3" y2="105.9" class="tk"/>
<text x="484.2" y="107.7" class="tl">1.10</text>
<text transform="translate(566.3 230.0) rotate(15.1)" class="tt">Total rainfall</text>
<text transform="translate(670.6 191.0) rotate(-66.6)" class="tt">Lag (weeks)</text>
<text transform="translate(479.2 145.0) rotate(84.4)" class="tt">RR</text>
<rect x="43.5" y="279.3" width="111.8" height="181.8" fill="#0000ff"/>
<path fill="#0e0eff" fill-rule="evenodd" d="M43.9 461.1L155.3 461.1L155.3 284.4L154.9 283.8L154.6 282.5L154.0 279.3L43.5 279.3L43.5 461.1Z"/>
<path fill="#1c1cff" fill-rule="evenodd" d="M43.9 461.1L155.3 461.1L155.3 385.5L153.4 368.2L150.8 336.0L149.7 315.6L148.1 279.3L43.5 279.3L43.5 461.1Z"/>
<path fill="#2a2aff" fill-rule="evenodd" d="M43.9 461.1L153.4 461.1L150.8 423.0L148.8 386.2L147.1 345.8L144.8 279.3L43.5 279.3L43.5 461.1Z"/>
<path fill="#3939ff" fill-rule="evenodd" d="M43.9 461.1L148.1 461.1L145.8 404.5L141.5 279.3L43.5 279.3L43.5 461.1Z"/>
<path fill="#4747ff" fill-rule="evenodd" d="M43.9 461.1L144.3 461.1L140.9 372.5L138.2 279.3L43.5 279.3L43.5 461.1Z"/>
<path fill="#5555ff" fill-rule="evenodd" d="M43.9 461.1L140.1 461.1L137.2 374.3L134.8 279.3L44.0 279.3L43.5 298.1L43.5 461.1Z"/>
<path fill="#6363ff" fill-rule="evenodd" d="M43.9 461.1L135.8 461.1L133.5 376.1L131.5 279.3L44.8 279.3L43.5 323.2L43.5 461.1Z"/>
<path fill="#7171ff" fill-rule="evenodd" d="M43.9 461.1L131.5 461.1L129.9 383.4L128.2 279.3L45.5 279.3L43.5 348.3L43.5 461.1Z"/>
<path fill="#8080ff" fill-rule="evenodd" d="M43.9 461.1L127.3 461.1L124.4 279.3L46.3 279.3L45.0 331.4L43.5 373.3L43.5 461.1Z"/>
<path fill="#8e8eff" fill-rule="evenodd" d="M43.9 461.1L123.0 461.1L121.7 371.6L120.6 279.3L47.2 279.3L45.5 345.1L43.5 398.4L43.5 461.1Z"/>
<path fill="#9c9cff" fill-rule="evenodd" d="M43.9 461.1L118.2 461.1L116.8 279.3L48.1 279.3L46.0 362.4L44.8 395.3L43.5 423.5L43.5 461.1Z"/>
<path fill="#aaaaff" fill-rule="evenodd" d="M43.9 461.1L113.5 461.1L113.0 279.3L49.1 279.3L47.9 335.0L46.6 378.9L45.1 417.2L43.5 448.6L43.5 461.1Z"/>
<path fill="#b8b8ff" fill-rule="evenodd" d="M44.6 461.1L108.8 461.1L108.8 279.3L50.3 279.3L49.0 336.9L47.8 380.7L46.2 424.6L44.3 461.1Z"/>
<path fill="#c6c6ff" fill-rule="evenodd" d="M46.5 461.1L104.0 461.1L104.5 279.3L51.6 279.3L50.7 325.9L49.7 367.9L47.9 421.8L46.1 461.1Z"/>
<path fill="#d4d4ff" fill-rule="evenodd" d="M48.4 461.1L98.0 461.1L99.7 279.3L53.1 279.3L52.2 331.4L51.1 378.0L49.8 421.8L48.2 461.1Z"/>
<path fill="#e3e3ff" fill-rule="evenodd" d="M51.0 461.1L92.8 461.1L94.5 279.3L54.8 279.3L53.1 379.8L52.0 425.5L50.7 461.1Z"/>
<path fill="#f1f1ff" fill-rule="evenodd" d="M54.0 461.1L85.8 461.1L88.1 363.3L89.7 279.3L57.6 279.3L55.3 399.0L53.8 461.1Z"/>
<path fill="#ffffff" fill-rule="evenodd" d="M58.5 461.1L77.9 461.1L79.9 396.2L82.7 279.3L62.1 279.3L59.7 398.1L58.2 461.1Z"/>
<rect x="43.50" y="279.30" width="111.80" height="181.80" class="pb"/>
<line x1="43.50" y1="461.10" x2="43.50" y2="465.60" class="ak"/>
<text x="43.50" y="477.40" class="al" text-anchor="middle">3</text>
<line x1="59.25" y1="461.10" x2="59.25" y2="465.60" class="ak"/>
<text x="59.25" y="477.40" class="al" text-anchor="middle">4</text>
<line x1="74.99" y1="461.10" x2="74.99" y2="465.60" class="ak"/>
<text x="74.99" y="477.40" class="al" text-anchor="middle">5</text>
<line x1="90.74" y1="461.10" x2="90.74" y2="465.60" class="ak"/>
<text x="90.74" y="477.40" class="al" text-anchor="middle">6</text>
<line x1="106.49" y1="461.10" x2="106.49" y2="465.60" class="ak"/>
<text x="106.49" y="477.40" class="al" text-anchor="middle">7</text>
<line x1="122.23" y1="461.10" x2="122.23" y2="465.60" class="ak"/>
<text x="122.23" y="477.40" class="al" text-anchor="middle">8</text>
<line x1="137.98" y1="461.10" x2="137.98" y2="465.60" class="ak"/>
<text x="137.98" y="477.40" class="al" text-anchor="middle">9</text>
<line x1="153.73" y1="461.10" x2="153.73" y2="465.60" class="ak"/>
<text x="153.73" y="477.40" class="al" text-anchor="middle">10</text>
<line x1="43.50" y1="461.10" x2="39.00" y2="461.10" class="ak"/>
<text x="34.40" y="463.70" class="al" text-anchor="end">0</text>
<line x1="43.50" y1="426.14" x2="39.00" y2="426.14" class="ak"/>
<text x="34.40" y="428.74" class="al" text-anchor="end">10</text>
<line x1="43.50" y1="391.18" x2="39.00" y2="391.18" class="ak"/>
<text x="34.40" y="393.78" class="al" text-anchor="end">20</text>
<line x1="43.50" y1="356.22" x2="39.00" y2="356.22" class="ak"/>
<text x="34.40" y="358.82" class="al" text-anchor="end">30</text>
<line x1="43.50" y1="321.25" x2="39.00" y2="321.25" class="ak"/>
<text x="34.40" y="323.85" class="al" text-anchor="end">40</text>
<line x1="43.50" y1="286.29" x2="39.00" y2="286.29" class="ak"/>
<text x="34.40" y="288.89" class="al" text-anchor="end">50</text>
<text x="99.40" y="494.60" class="al" text-anchor="middle">Average wind speed</text>
<text transform="translate(15.20 370.20) rotate(-90)" class="al" text-anchor="middle">Lag (weeks)</text>
<rect x="172.40" y="452.01" width="18.20" height="9.09" fill="#0000ff" class="lg"/>
<rect x="172.40" y="442.92" width="18.20" height="9.09" fill="#0e0eff" class="lg"/>
<rect x="172.40" y="433.83" width="18.20" height="9.09" fill="#1c1cff" class="lg"/>
<rect x="172.40" y="424.74" width="18.20" height="9.09" fill="#2a2aff" class="lg"/>
<rect x="172.40" y="415.65" width="18.20" height="9.09" fill="#3939ff" class="lg"/>
<rect x="172.40" y="406.56" width="18.20" height="9.09" fill="#4747ff" class="lg"/>
<rect x="172.40" y="397.47" width="18.20" height="9.09" fill="#5555ff" class="lg"/>
<rect x="172.40" y="388.38" width="18.20" height="9.09" fill="#6363ff" class="lg"/>
<rect x="172.40" y="379.29" width="18.20" height="9.09" fill="#7171ff" class="lg"/>
<rect x="172.40" y="370.20" width="18.20" height="9.09" fill="#8080ff" class="lg"/>
<rect x="172.40" y="361.11" width="18.20" height="9.09" fill="#8e8eff" class="lg"/>
<rect x="172.40" y="352.02" width="18.20" height="9.09" fill="#9c9cff" class="lg"/>
<rect x="172.40" y="342.93" width="18.20" height="9.09" fill="#aaaaff" class="lg"/>
<rect x="172.40" y="333.84" width="18.20" height="9.09" fill="#b8b8ff" class="lg"/>
<rect x="172.40" y="324.75" width="18.20" height="9.09" fill="#c6c6ff" class="lg"/>
<rect x="172.40" y="315.66" width="18.20" height="9.09" fill="#d4d4ff" class="lg"/>
<rect x="172.40" y="306.57" width="18.20" height="9.09" fill="#e3e3ff" class="lg"/>
<rect x="172.40" y="297.48" width="18.20" height="9.09" fill="#f1f1ff" class="lg"/>
<rect x="172.40" y="288.39" width="18.20" height="9.09" fill="#ffffff" class="lg"/>
<rect x="172.40" y="279.30" width="18.20" height="9.09" fill="#ffffff" class="lg"/>
<rect x="172.40" y="279.30" width="18.20" height="181.80" class="pb"/>
<line x1="190.60" y1="424.74" x2="195.10" y2="424.74" class="ak"/>
<text x="199.20" y="427.34" class="al">0.7</text>
<line x1="190.60" y1="379.29" x2="195.10" y2="379.29" class="ak"/>
<text x="199.20" y="381.89" class="al">0.8</text>
<line x1="190.60" y1="333.84" x2="195.10" y2="333.84" class="ak"/>
<text x="199.20" y="336.44" class="al">0.9</text>
<line x1="190.60" y1="288.39" x2="195.10" y2="288.39" class="ak"/>
<text x="199.20" y="290.99" class="al">1.0</text>
<text x="181.80" y="264.70" class="rr" text-anchor="middle">RR</text>
<rect x="277.0" y="279.3" width="111.6" height="181.9" fill="#0000ff"/>
<path fill="#ffffff" fill-rule="evenodd" d="M291.6 461.2L388.6 461.2L388.6 279.3L277.0 279.3L277.0 339.5L281.6 368.0L285.1 394.5L287.4 415.5L291.4 461.2Z"/>
<path fill="#ffebeb" fill-rule="evenodd" d="M388.6 430.3L388.6 279.3L351.7 279.3L351.8 292.1L352.3 304.0L353.1 316.8L354.2 329.6L355.5 340.5L357.0 350.6L358.9 360.7L361.2 370.7L363.8 380.8L366.5 389.9L369.0 397.2L371.4 402.7L373.3 406.5L375.5 410.2L377.4 412.8L382.6 419.1L384.9 422.4L386.7 425.8Z"/>
<path fill="#ffd8d8" fill-rule="evenodd" d="M388.6 409.7L388.6 279.3L358.2 279.3L360.7 301.2L364.2 325.0L368.0 346.9L371.8 365.2L374.7 376.2L377.5 384.4L380.1 390.8L386.0 403.6Z"/>
<path fill="#ffc4c4" fill-rule="evenodd" d="M388.6 392.8L388.6 279.3L363.1 279.3L372.4 332.3L376.4 352.4L378.6 361.6L381.2 370.7L384.1 379.8Z"/>
<path fill="#ffb1b1" fill-rule="evenodd" d="M388.6 377.8L388.6 279.3L367.5 279.3L371.1 296.4L376.9 327.7L379.8 342.4L384.3 361.6Z"/>
<path fill="#ff9d9d" fill-rule="evenodd" d="M388.6 363.6L388.6 279.3L371.2 279.3L375.5 299.5L384.2 343.3Z"/>
<path fill="#ff8989" fill-rule="evenodd" d="M388.6 350.0L388.6 279.3L374.1 279.3L380.8 309.4Z"/>
<path fill="#ff7676" fill-rule="evenodd" d="M388.6 337.5L388.6 279.3L376.4 279.3L382.6 305.8Z"/>
<path fill="#ff6262" fill-rule="evenodd" d="M388.6 326.5L388.6 279.3L378.4 279.3L381.9 293.0L384.0 302.2Z"/>
<path fill="#ff4e4e" fill-rule="evenodd" d="M388.6 316.9L388.6 279.3L380.1 279.3L383.1 290.3L384.9 297.5L386.6 305.8Z"/>
<path fill="#ff3b3b" fill-rule="evenodd" d="M388.6 308.3L388.6 279.3L381.7 279.3L385.6 293.3L387.1 300.1Z"/>
<path fill="#ff2727" fill-rule="evenodd" d="M388.6 300.3L388.6 279.3L383.2 279.3L386.4 289.6Z"/>
<path fill="#ff1414" fill-rule="evenodd" d="M388.6 292.7L388.6 279.3L384.9 279.3L387.0 285.7Z"/>
<path fill="#ff0000" fill-rule="evenodd" d="M388.6 285.1L388.6 279.3L386.7 279.3L387.7 282.0Z"/>
<rect x="277.00" y="279.30" width="111.60" height="181.90" class="pb"/>
<line x1="279.54" y1="461.20" x2="279.54" y2="465.70" class="ak"/>
<text x="279.54" y="477.50" class="al" text-anchor="middle">22</text>
<line x1="304.90" y1="461.20" x2="304.90" y2="465.70" class="ak"/>
<text x="304.90" y="477.50" class="al" text-anchor="middle">23</text>
<line x1="330.26" y1="461.20" x2="330.26" y2="465.70" class="ak"/>
<text x="330.26" y="477.50" class="al" text-anchor="middle">24</text>
<line x1="355.63" y1="461.20" x2="355.63" y2="465.70" class="ak"/>
<text x="355.63" y="477.50" class="al" text-anchor="middle">25</text>
<line x1="380.99" y1="461.20" x2="380.99" y2="465.70" class="ak"/>
<text x="380.99" y="477.50" class="al" text-anchor="middle">26</text>
<line x1="277.00" y1="461.20" x2="272.50" y2="461.20" class="ak"/>
<text x="267.90" y="463.80" class="al" text-anchor="end">0</text>
<line x1="277.00" y1="426.22" x2="272.50" y2="426.22" class="ak"/>
<text x="267.90" y="428.82" class="al" text-anchor="end">10</text>
<line x1="277.00" y1="391.24" x2="272.50" y2="391.24" class="ak"/>
<text x="267.90" y="393.84" class="al" text-anchor="end">20</text>
<line x1="277.00" y1="356.26" x2="272.50" y2="356.26" class="ak"/>
<text x="267.90" y="358.86" class="al" text-anchor="end">30</text>
<line x1="277.00" y1="321.28" x2="272.50" y2="321.28" class="ak"/>
<text x="267.90" y="323.88" class="al" text-anchor="end">40</text>
<line x1="277.00" y1="286.30" x2="272.50" y2="286.30" class="ak"/>
<text x="267.90" y="288.90" class="al" text-anchor="end">50</text>
<text x="332.80" y="494.60" class="al" text-anchor="middle">Minimum Temperature</text>
<text transform="translate(248.70 370.25) rotate(-90)" class="al" text-anchor="middle">Lag (weeks)</text>
<rect x="406.10" y="449.83" width="17.90" height="11.37" fill="#0000ff" class="lg"/>
<rect x="406.10" y="438.46" width="17.90" height="11.37" fill="#ffffff" class="lg"/>
<rect x="406.10" y="427.09" width="17.90" height="11.37" fill="#ffffff" class="lg"/>
<rect x="406.10" y="415.73" width="17.90" height="11.37" fill="#ffebeb" class="lg"/>
<rect x="406.10" y="404.36" width="17.90" height="11.37" fill="#ffd8d8" class="lg"/>
<rect x="406.10" y="392.99" width="17.90" height="11.37" fill="#ffc4c4" class="lg"/>
<rect x="406.10" y="381.62" width="17.90" height="11.37" fill="#ffb1b1" class="lg"/>
<rect x="406.10" y="370.25" width="17.90" height="11.37" fill="#ff9d9d" class="lg"/>
<rect x="406.10" y="358.88" width="17.90" height="11.37" fill="#ff8989" class="lg"/>
<rect x="406.10" y="347.51" width="17.90" height="11.37" fill="#ff7676" class="lg"/>
<rect x="406.10" y="336.14" width="17.90" height="11.37" fill="#ff6262" class="lg"/>
<rect x="406.10" y="324.77" width="17.90" height="11.37" fill="#ff4e4e" class="lg"/>
<rect x="406.10" y="313.41" width="17.90" height="11.37" fill="#ff3b3b" class="lg"/>
<rect x="406.10" y="302.04" width="17.90" height="11.37" fill="#ff2727" class="lg"/>
<rect x="406.10" y="290.67" width="17.90" height="11.37" fill="#ff1414" class="lg"/>
<rect x="406.10" y="279.30" width="17.90" height="11.37" fill="#ff0000" class="lg"/>
<rect x="406.10" y="279.30" width="17.90" height="181.90" class="pb"/>
<line x1="424.00" y1="438.46" x2="428.50" y2="438.46" class="ak"/>
<text x="432.60" y="441.06" class="al">1.0</text>
<line x1="424.00" y1="410.04" x2="428.50" y2="410.04" class="ak"/>
<text x="432.60" y="412.64" class="al">1.5</text>
<line x1="424.00" y1="381.62" x2="428.50" y2="381.62" class="ak"/>
<text x="432.60" y="384.22" class="al">2.0</text>
<line x1="424.00" y1="353.20" x2="428.50" y2="353.20" class="ak"/>
<text x="432.60" y="355.80" class="al">2.5</text>
<line x1="424.00" y1="324.77" x2="428.50" y2="324.77" class="ak"/>
<text x="432.60" y="327.38" class="al">3.0</text>
<line x1="424.00" y1="296.35" x2="428.50" y2="296.35" class="ak"/>
<text x="432.60" y="298.95" class="al">3.5</text>
<text x="415.35" y="264.70" class="rr" text-anchor="middle">RR</text>
<rect x="510.5" y="279.2" width="112.6" height="182.1" fill="#0000ff"/>
<path fill="#1c1cff" fill-rule="evenodd" d="M510.9 461.3L620.0 461.3L621.6 458.9L623.1 457.1L623.1 279.2L510.5 279.2L510.5 461.3Z"/>
<path fill="#3939ff" fill-rule="evenodd" d="M510.9 461.3L616.9 461.3L618.2 458.6L619.9 455.8L621.6 453.7L623.1 452.4L623.1 279.2L510.5 279.2L510.5 461.3Z"/>
<path fill="#5555ff" fill-rule="evenodd" d="M510.9 461.3L613.9 461.3L615.9 456.1L618.2 451.8L620.5 448.9L621.6 448.0L623.1 447.1L623.1 279.2L510.5 279.2L510.5 461.3Z"/>
<path fill="#7171ff" fill-rule="evenodd" d="M510.9 461.3L610.8 461.3L613.7 452.8L615.2 449.4L616.7 446.6L618.2 444.4L619.7 442.8L621.2 441.8L623.1 441.3L623.1 279.2L510.5 279.2L510.5 461.3Z"/>
<path fill="#8e8eff" fill-rule="evenodd" d="M510.9 461.3L607.5 461.3L609.7 454.0L611.8 448.1L613.7 443.5L615.6 439.9L617.5 437.2L619.3 435.5L621.2 434.7L623.1 434.7L623.1 279.2L510.5 279.2L510.5 461.3Z"/>
<path fill="#aaaaff" fill-rule="evenodd" d="M510.9 461.3L604.0 461.3L609.9 443.0L612.2 437.2L614.3 432.9L616.3 429.8L617.5 428.6L618.6 427.7L619.7 427.1L620.8 426.8L622.0 427.0L623.1 427.4L623.1 279.2L510.5 279.2L510.5 461.3Z"/>
<path fill="#c6c6ff" fill-rule="evenodd" d="M510.9 461.3L600.0 461.3L608.4 436.2L611.0 429.6L613.3 425.0L615.9 421.1L618.2 419.0L619.7 418.4L620.8 418.3L622.0 418.6L623.1 419.3L623.1 279.2L510.5 279.2L510.5 461.3Z"/>
<path fill="#e3e3ff" fill-rule="evenodd" d="M510.9 461.3L595.3 461.3L598.6 452.8L607.2 428.4L609.9 422.0L612.2 417.2L613.7 414.7L615.2 412.6L616.7 411.0L617.8 410.1L619.3 409.4L620.5 409.3L622.0 409.7L623.1 410.4L623.1 279.2L510.5 279.2L510.5 461.3Z"/>
<path fill="#ffffff" fill-rule="evenodd" d="M510.9 461.3L590.1 461.3L594.9 450.3L606.1 420.1L608.8 414.0L611.0 409.4L612.8 406.4L614.4 404.2L615.9 402.5L617.5 401.2L619.0 400.5L620.5 400.2L622.0 400.6L623.1 401.3L623.1 279.2L510.5 279.2L510.5 461.3Z"/>
<path fill="#ffeded" fill-rule="evenodd" d="M510.9 461.3L518.8 461.3L517.8 415.5L517.1 390.8L516.3 373.5L514.4 342.3L513.3 327.7L512.0 316.1L510.5 308.7L510.5 461.3ZM528.6 461.3L578.9 461.3L586.3 443.9L597.8 415.5L602.5 405.5L607.7 395.4L609.9 391.8L611.9 389.0L614.1 386.4L615.9 384.7L617.8 383.6L619.7 383.0L621.6 383.1L623.1 383.7L623.1 279.2L527.6 279.2L527.6 311.2L528.5 388.1L528.0 447.6L528.2 461.3Z"/>
<path fill="#ffdbdb" fill-rule="evenodd" d="M510.9 461.3L517.4 461.3L516.3 416.5L514.8 379.9L513.9 367.8L512.4 353.3L511.6 347.6L510.5 341.9L510.5 461.3ZM535.0 461.3L572.8 461.3L577.5 448.6L590.3 417.4L595.4 406.4L601.5 395.4L608.4 384.3L611.0 380.8L613.7 378.0L616.3 376.0L618.6 374.9L620.8 374.7L623.1 375.2L623.1 279.2L533.4 279.2L533.1 294.8L533.1 312.1L534.6 391.8L534.6 449.4L534.8 461.3Z"/>
<path fill="#ffc8c8" fill-rule="evenodd" d="M510.9 461.3L516.4 461.3L515.3 421.0L513.9 390.2L513.1 379.8L512.4 373.0L511.6 368.5L510.5 364.6L510.5 461.3ZM542.5 461.3L564.8 461.3L566.9 454.0L569.4 446.7L572.4 438.4L576.1 429.3L580.3 419.2L584.1 411.0L587.3 404.6L590.5 399.1L594.7 392.7L600.1 385.3L607.0 376.2L611.1 371.6L614.4 368.8L617.5 367.1L619.0 366.7L620.5 366.5L622.0 366.7L623.1 367.0L623.1 279.2L538.8 279.2L538.2 298.4L538.4 321.3L539.2 346.0L541.8 411.9L542.3 435.7Z"/>
<path fill="#ffb6b6" fill-rule="evenodd" d="M510.9 461.3L515.6 461.3L514.5 427.4L513.3 402.7L512.0 387.3L511.3 382.4L510.5 379.9L510.5 461.3ZM557.6 419.3L558.7 419.6L559.8 419.3L561.3 418.4L562.8 417.0L566.6 412.3L578.6 395.4L583.9 388.8L589.2 383.2L600.5 372.6L608.4 364.9L612.6 361.5L616.3 359.4L618.2 358.8L619.7 358.6L621.6 358.6L623.1 359.0L623.1 279.2L544.2 279.2L543.6 288.1L543.4 297.5L543.6 318.5L544.8 343.3L546.9 368.9L549.3 390.1L550.5 398.2L551.9 405.6L553.2 411.0L554.6 415.0L556.1 417.9Z"/>
<path fill="#ffa4a4" fill-rule="evenodd" d="M510.9 461.3L514.9 461.3L513.9 434.8L512.9 415.5L511.6 401.5L511.3 399.0L510.5 396.2L510.5 461.3ZM565.1 373.5L567.4 374.0L569.6 373.9L572.3 373.4L575.6 372.2L592.2 365.1L596.7 362.9L602.0 359.8L610.3 354.2L614.1 352.1L616.7 351.2L619.0 350.8L621.2 350.7L623.1 351.1L623.1 279.2L549.7 279.2L549.1 286.5L548.8 294.8L548.8 303.0L549.0 311.2L549.5 320.4L550.2 328.6L551.2 336.8L552.3 344.4L553.4 350.6L554.7 356.1L556.1 360.9L557.6 364.9L559.1 367.9L561.0 370.6L562.8 372.4Z"/>
<path fill="#ff9292" fill-rule="evenodd" d="M510.9 461.3L514.2 461.3L513.4 441.2L512.4 425.4L511.6 417.7L511.3 415.1L510.5 412.1L510.5 461.3ZM581.3 350.6L590.3 350.8L596.4 350.2L599.4 349.6L602.4 348.6L611.0 344.9L614.8 343.6L617.1 343.1L619.3 342.9L621.2 343.0L623.1 343.4L623.1 279.2L555.6 279.2L555.0 286.5L554.8 293.8L554.9 301.2L555.4 308.5L556.2 315.8L557.2 322.2L558.7 328.6L560.2 333.4L562.0 337.8L564.0 341.3L566.2 344.3L568.5 346.5L571.1 348.2L573.8 349.3L577.2 350.1Z"/>
<path fill="#ff8080" fill-rule="evenodd" d="M510.9 461.3L513.5 461.3L512.8 446.9L512.0 436.5L511.3 430.0L510.5 427.0L510.5 461.3ZM595.2 337.8L599.0 338.0L602.8 337.8L612.6 335.8L616.3 335.3L619.7 335.2L623.1 335.8L623.1 279.2L561.9 279.2L561.5 285.6L561.4 292.0L561.8 298.4L562.5 303.7L563.5 309.4L564.8 314.0L566.5 318.5L568.3 322.2L570.4 325.4L572.6 328.0L575.3 330.3L577.9 332.0L581.7 333.9L586.6 335.7L591.1 337.0Z"/>
<path fill="#ff6d6d" fill-rule="evenodd" d="M510.9 461.3L512.7 461.3L511.6 447.1L511.2 443.9L510.5 441.0L510.5 461.3ZM620.8 327.7L623.1 328.2L623.1 279.2L568.7 279.2L568.6 285.6L569.0 291.1L569.9 296.6L571.1 301.5L572.7 305.7L574.9 310.1L577.5 313.8L580.3 316.7L583.9 319.7L588.5 322.5L593.0 324.7L597.5 326.3L600.9 327.1L603.9 327.4L615.6 327.3Z"/>
<path fill="#ff5b5b" fill-rule="evenodd" d="M510.9 461.3L511.7 461.3L511.3 457.5L510.5 454.3L510.5 461.3ZM622.0 320.5L623.1 320.8L623.1 279.2L576.2 279.2L576.6 283.8L577.3 288.4L578.3 292.0L579.6 295.7L581.4 299.3L583.6 302.7L586.1 305.7L588.8 308.5L591.8 310.9L595.0 313.1L598.2 314.8L601.6 316.3L606.9 317.8L617.5 319.5Z"/>
<path fill="#ff4949" fill-rule="evenodd" d="M622.3 313.1L623.1 313.3L623.1 279.2L584.6 279.2L585.4 282.9L586.3 285.6L587.4 288.4L588.7 291.1L590.4 293.8L592.4 296.6L594.5 298.9L596.8 301.2L601.6 304.8L606.5 307.6L611.8 309.7Z"/>
<path fill="#ff3737" fill-rule="evenodd" d="M623.1 305.8L623.1 279.2L593.7 279.2L595.7 283.8L598.2 288.0L601.3 291.9L604.6 295.3L608.4 298.4L612.2 300.8L616.7 303.1Z"/>
<path fill="#ff2424" fill-rule="evenodd" d="M621.6 297.6L623.1 298.3L623.1 279.2L602.7 279.2L604.2 281.9L606.2 284.8L608.2 287.4L610.7 290.0L612.9 292.0L615.6 294.0Z"/>
<path fill="#ff1212" fill-rule="evenodd" d="M622.3 290.2L623.1 290.7L623.1 279.2L610.5 279.2L612.9 282.4L615.9 285.5L619.0 288.0Z"/>
<path fill="#ff0000" fill-rule="evenodd" d="M622.0 282.1L623.1 282.8L623.1 279.2L618.6 279.2Z"/>
<rect x="510.50" y="279.20" width="112.60" height="182.10" class="pb"/>
<line x1="510.50" y1="461.30" x2="510.50" y2="465.80" class="ak"/>
<text x="510.50" y="477.60" class="al" text-anchor="middle">0</text>
<line x1="537.70" y1="461.30" x2="537.70" y2="465.80" class="ak"/>
<text x="537.70" y="477.60" class="al" text-anchor="middle">100</text>
<line x1="564.90" y1="461.30" x2="564.90" y2="465.80" class="ak"/>
<text x="564.90" y="477.60" class="al" text-anchor="middle">200</text>
<line x1="592.09" y1="461.30" x2="592.09" y2="465.80" class="ak"/>
<text x="592.09" y="477.60" class="al" text-anchor="middle">300</text>
<line x1="619.29" y1="461.30" x2="619.29" y2="465.80" class="ak"/>
<text x="619.29" y="477.60" class="al" text-anchor="middle">400</text>
<line x1="510.50" y1="461.30" x2="506.00" y2="461.30" class="ak"/>
<text x="501.40" y="463.90" class="al" text-anchor="end">0</text>
<line x1="510.50" y1="426.28" x2="506.00" y2="426.28" class="ak"/>
<text x="501.40" y="428.88" class="al" text-anchor="end">10</text>
<line x1="510.50" y1="391.26" x2="506.00" y2="391.26" class="ak"/>
<text x="501.40" y="393.86" class="al" text-anchor="end">20</text>
<line x1="510.50" y1="356.24" x2="506.00" y2="356.24" class="ak"/>
<text x="501.40" y="358.84" class="al" text-anchor="end">30</text>
<line x1="510.50" y1="321.22" x2="506.00" y2="321.22" class="ak"/>
<text x="501.40" y="323.82" class="al" text-anchor="end">40</text>
<line x1="510.50" y1="286.20" x2="506.00" y2="286.20" class="ak"/>
<text x="501.40" y="288.80" class="al" text-anchor="end">50</text>
<text x="566.80" y="494.60" class="al" text-anchor="middle">Total rainfall</text>
<text transform="translate(482.20 370.25) rotate(-90)" class="al" text-anchor="middle">Lag (weeks)</text>
<rect x="641.10" y="454.02" width="17.30" height="7.28" fill="#0000ff" class="lg"/>
<rect x="641.10" y="446.73" width="17.30" height="7.28" fill="#1c1cff" class="lg"/>
<rect x="641.10" y="439.45" width="17.30" height="7.28" fill="#3939ff" class="lg"/>
<rect x="641.10" y="432.16" width="17.30" height="7.28" fill="#5555ff" class="lg"/>
<rect x="641.10" y="424.88" width="17.30" height="7.28" fill="#7171ff" class="lg"/>
<rect x="641.10" y="417.60" width="17.30" height="7.28" fill="#8e8eff" class="lg"/>
<rect x="641.10" y="410.31" width="17.30" height="7.28" fill="#aaaaff" class="lg"/>
<rect x="641.10" y="403.03" width="17.30" height="7.28" fill="#c6c6ff" class="lg"/>
<rect x="641.10" y="395.74" width="17.30" height="7.28" fill="#e3e3ff" class="lg"/>
<rect x="641.10" y="388.46" width="17.30" height="7.28" fill="#ffffff" class="lg"/>
<rect x="641.10" y="381.18" width="17.30" height="7.28" fill="#ffffff" class="lg"/>
<rect x="641.10" y="373.89" width="17.30" height="7.28" fill="#ffeded" class="lg"/>
<rect x="641.10" y="366.61" width="17.30" height="7.28" fill="#ffdbdb" class="lg"/>
<rect x="641.10" y="359.32" width="17.30" height="7.28" fill="#ffc8c8" class="lg"/>
<rect x="641.10" y="352.04" width="17.30" height="7.28" fill="#ffb6b6" class="lg"/>
<rect x="641.10" y="344.76" width="17.30" height="7.28" fill="#ffa4a4" class="lg"/>
<rect x="641.10" y="337.47" width="17.30" height="7.28" fill="#ff9292" class="lg"/>
<rect x="641.10" y="330.19" width="17.30" height="7.28" fill="#ff8080" class="lg"/>
<rect x="641.10" y="322.90" width="17.30" height="7.28" fill="#ff6d6d" class="lg"/>
<rect x="641.10" y="315.62" width="17.30" height="7.28" fill="#ff5b5b" class="lg"/>
<rect x="641.10" y="308.34" width="17.30" height="7.28" fill="#ff4949" class="lg"/>
<rect x="641.10" y="301.05" width="17.30" height="7.28" fill="#ff3737" class="lg"/>
<rect x="641.10" y="293.77" width="17.30" height="7.28" fill="#ff2424" class="lg"/>
<rect x="641.10" y="286.48" width="17.30" height="7.28" fill="#ff1212" class="lg"/>
<rect x="641.10" y="279.20" width="17.30" height="7.28" fill="#ff0000" class="lg"/>
<rect x="641.10" y="279.20" width="17.30" height="182.10" class="pb"/>
<line x1="658.40" y1="461.30" x2="662.90" y2="461.30" class="ak"/>
<text x="667.00" y="463.90" class="al">0.90</text>
<line x1="658.40" y1="424.88" x2="662.90" y2="424.88" class="ak"/>
<text x="667.00" y="427.48" class="al">0.95</text>
<line x1="658.40" y1="388.46" x2="662.90" y2="388.46" class="ak"/>
<text x="667.00" y="391.06" class="al">1.00</text>
<line x1="658.40" y1="352.04" x2="662.90" y2="352.04" class="ak"/>
<text x="667.00" y="354.64" class="al">1.05</text>
<line x1="658.40" y1="315.62" x2="662.90" y2="315.62" class="ak"/>
<text x="667.00" y="318.22" class="al">1.10</text>
<line x1="658.40" y1="279.20" x2="662.90" y2="279.20" class="ak"/>
<text x="667.00" y="281.80" class="al">1.15</text>
<text x="650.05" y="264.70" class="rr" text-anchor="middle">RR</text>
</svg></body></html>
